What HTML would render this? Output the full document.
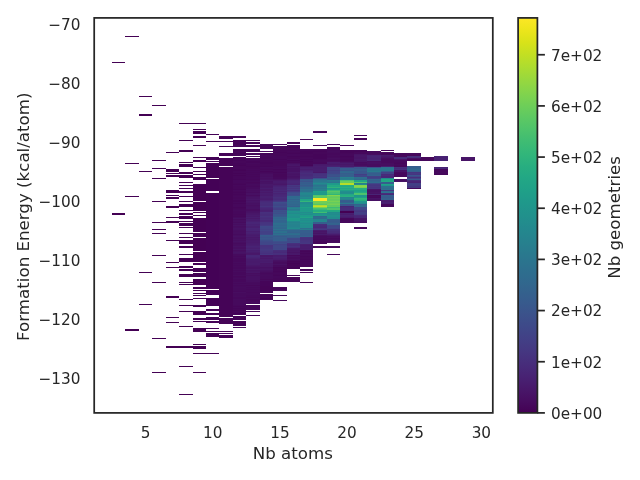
<!DOCTYPE html>
<html lang="en"><head><meta charset="utf-8"><title>Nb atoms vs Formation Energy</title>
<style>html,body{margin:0;padding:0;background:#fff;overflow:hidden}svg{display:block}</style></head>
<body>
<svg width="640" height="480" viewBox="0 0 640 480">
<defs><linearGradient id="vg" x1="0" y1="1" x2="0" y2="0">
<stop offset="0.0000" stop-color="#440154"/>
<stop offset="0.0312" stop-color="#470d60"/>
<stop offset="0.0625" stop-color="#48186a"/>
<stop offset="0.0938" stop-color="#482374"/>
<stop offset="0.1250" stop-color="#472d7b"/>
<stop offset="0.1562" stop-color="#453781"/>
<stop offset="0.1875" stop-color="#424086"/>
<stop offset="0.2188" stop-color="#3e4989"/>
<stop offset="0.2500" stop-color="#3b528b"/>
<stop offset="0.2812" stop-color="#375b8d"/>
<stop offset="0.3125" stop-color="#33638d"/>
<stop offset="0.3438" stop-color="#2f6b8e"/>
<stop offset="0.3750" stop-color="#2c728e"/>
<stop offset="0.4062" stop-color="#297a8e"/>
<stop offset="0.4375" stop-color="#26828e"/>
<stop offset="0.4688" stop-color="#23898e"/>
<stop offset="0.5000" stop-color="#21918c"/>
<stop offset="0.5312" stop-color="#1f988b"/>
<stop offset="0.5625" stop-color="#1fa088"/>
<stop offset="0.5938" stop-color="#22a785"/>
<stop offset="0.6250" stop-color="#28ae80"/>
<stop offset="0.6562" stop-color="#32b67a"/>
<stop offset="0.6875" stop-color="#3fbc73"/>
<stop offset="0.7188" stop-color="#4ec36b"/>
<stop offset="0.7500" stop-color="#5ec962"/>
<stop offset="0.7812" stop-color="#70cf57"/>
<stop offset="0.8125" stop-color="#84d44b"/>
<stop offset="0.8438" stop-color="#98d83e"/>
<stop offset="0.8750" stop-color="#addc30"/>
<stop offset="0.9062" stop-color="#c2df23"/>
<stop offset="0.9375" stop-color="#d8e219"/>
<stop offset="0.9688" stop-color="#ece51b"/>
<stop offset="1.0000" stop-color="#fde725"/>
</linearGradient></defs>
<rect width="640" height="480" fill="#ffffff"/>
<g id="heat" shape-rendering="crispEdges"><rect x="112" y="62.00" width="13" height="1.00" fill="#440154"/>
<rect x="112" y="213.00" width="13" height="2.00" fill="#440154"/>
<rect x="125" y="36.00" width="14" height="1.00" fill="#440154"/>
<rect x="125" y="163.00" width="14" height="1.00" fill="#440154"/>
<rect x="125" y="196.00" width="14" height="1.00" fill="#440154"/>
<rect x="125" y="329.00" width="14" height="2.00" fill="#440154"/>
<rect x="139" y="96.00" width="13" height="1.00" fill="#440154"/>
<rect x="139" y="114.00" width="13" height="2.00" fill="#440154"/>
<rect x="139" y="171.00" width="13" height="1.00" fill="#440154"/>
<rect x="139" y="272.00" width="13" height="1.00" fill="#440154"/>
<rect x="139" y="304.00" width="13" height="1.00" fill="#440154"/>
<rect x="152" y="105.00" width="14" height="1.00" fill="#440154"/>
<rect x="152" y="160.00" width="14" height="1.00" fill="#440154"/>
<rect x="152" y="168.00" width="14" height="1.00" fill="#440154"/>
<rect x="152" y="178.00" width="14" height="1.00" fill="#440154"/>
<rect x="152" y="201.00" width="14" height="1.00" fill="#440154"/>
<rect x="152" y="222.00" width="14" height="1.00" fill="#440154"/>
<rect x="152" y="229.00" width="14" height="1.00" fill="#440154"/>
<rect x="152" y="233.00" width="14" height="1.00" fill="#440154"/>
<rect x="152" y="255.00" width="14" height="1.00" fill="#440154"/>
<rect x="152" y="282.00" width="14" height="1.00" fill="#440154"/>
<rect x="152" y="338.00" width="14" height="1.00" fill="#440154"/>
<rect x="152" y="372.00" width="14" height="1.00" fill="#440154"/>
<rect x="166" y="152.00" width="13" height="1.00" fill="#440154"/>
<rect x="166" y="169.00" width="13" height="3.00" fill="#440154"/>
<rect x="166" y="173.00" width="13" height="1.00" fill="#440154"/>
<rect x="166" y="175.00" width="13" height="2.00" fill="#440154"/>
<rect x="166" y="190.00" width="13" height="3.00" fill="#440154"/>
<rect x="166" y="195.00" width="13" height="1.00" fill="#440154"/>
<rect x="166" y="197.00" width="13" height="2.00" fill="#440154"/>
<rect x="166" y="206.00" width="13" height="2.00" fill="#440154"/>
<rect x="166" y="217.00" width="13" height="1.00" fill="#440154"/>
<rect x="166" y="221.00" width="13" height="2.00" fill="#440154"/>
<rect x="166" y="240.00" width="13" height="1.00" fill="#440154"/>
<rect x="166" y="262.00" width="13" height="1.00" fill="#440154"/>
<rect x="166" y="267.00" width="13" height="1.00" fill="#440154"/>
<rect x="166" y="296.00" width="13" height="2.00" fill="#440154"/>
<rect x="166" y="317.00" width="13" height="1.00" fill="#440154"/>
<rect x="166" y="322.00" width="13" height="1.00" fill="#440154"/>
<rect x="166" y="346.00" width="13" height="2.00" fill="#440154"/>
<rect x="179" y="123.00" width="14" height="1.00" fill="#440154"/>
<rect x="179" y="140.00" width="14" height="1.00" fill="#440154"/>
<rect x="179" y="150.00" width="14" height="2.00" fill="#440154"/>
<rect x="179" y="162.00" width="14" height="1.00" fill="#440154"/>
<rect x="179" y="164.00" width="14" height="3.00" fill="#440154"/>
<rect x="179" y="172.00" width="14" height="2.00" fill="#440154"/>
<rect x="179" y="175.00" width="14" height="3.00" fill="#440154"/>
<rect x="179" y="182.00" width="14" height="1.00" fill="#440154"/>
<rect x="179" y="185.00" width="14" height="1.00" fill="#440154"/>
<rect x="179" y="188.00" width="14" height="1.00" fill="#440154"/>
<rect x="179" y="191.00" width="14" height="2.00" fill="#440154"/>
<rect x="179" y="196.00" width="14" height="1.00" fill="#440154"/>
<rect x="179" y="201.00" width="14" height="1.00" fill="#440154"/>
<rect x="179" y="204.00" width="14" height="2.00" fill="#440154"/>
<rect x="179" y="206.00" width="14" height="1.00" fill="#440154"/>
<rect x="179" y="210.00" width="14" height="1.00" fill="#440154"/>
<rect x="179" y="213.00" width="14" height="2.00" fill="#440154"/>
<rect x="179" y="216.00" width="14" height="3.00" fill="#440154"/>
<rect x="179" y="221.00" width="14" height="1.00" fill="#440154"/>
<rect x="179" y="223.00" width="14" height="3.00" fill="#440154"/>
<rect x="179" y="227.00" width="14" height="1.00" fill="#440154"/>
<rect x="179" y="233.00" width="14" height="1.00" fill="#440154"/>
<rect x="179" y="237.00" width="14" height="1.00" fill="#440154"/>
<rect x="179" y="240.00" width="14" height="4.00" fill="#440154"/>
<rect x="179" y="246.00" width="14" height="2.00" fill="#440154"/>
<rect x="179" y="254.00" width="14" height="1.00" fill="#440154"/>
<rect x="179" y="258.00" width="14" height="4.00" fill="#440154"/>
<rect x="179" y="266.00" width="14" height="2.00" fill="#440154"/>
<rect x="179" y="269.00" width="14" height="2.00" fill="#440154"/>
<rect x="179" y="274.00" width="14" height="3.00" fill="#440154"/>
<rect x="179" y="282.00" width="14" height="1.00" fill="#440154"/>
<rect x="179" y="284.00" width="14" height="1.00" fill="#440154"/>
<rect x="179" y="299.00" width="14" height="1.00" fill="#440154"/>
<rect x="179" y="305.00" width="14" height="1.00" fill="#440154"/>
<rect x="179" y="311.00" width="14" height="1.00" fill="#440154"/>
<rect x="179" y="326.00" width="14" height="1.00" fill="#440154"/>
<rect x="179" y="346.00" width="14" height="2.00" fill="#440154"/>
<rect x="179" y="366.00" width="14" height="1.00" fill="#440154"/>
<rect x="179" y="394.00" width="14" height="1.00" fill="#440154"/>
<rect x="193" y="123.00" width="13" height="1.00" fill="#440154"/>
<rect x="193" y="129.00" width="13" height="1.00" fill="#440154"/>
<rect x="193" y="131.00" width="13" height="3.00" fill="#440154"/>
<rect x="193" y="136.00" width="13" height="2.00" fill="#440154"/>
<rect x="193" y="145.00" width="13" height="1.00" fill="#440154"/>
<rect x="193" y="157.00" width="13" height="1.00" fill="#440154"/>
<rect x="193" y="160.00" width="13" height="2.00" fill="#440154"/>
<rect x="193" y="167.00" width="13" height="1.00" fill="#440154"/>
<rect x="193" y="171.00" width="13" height="1.00" fill="#440154"/>
<rect x="193" y="174.00" width="13" height="1.00" fill="#440154"/>
<rect x="193" y="177.00" width="13" height="3.00" fill="#440154"/>
<rect x="193" y="184.00" width="13" height="17.00" fill="#440154"/>
<rect x="193" y="202.00" width="13" height="9.00" fill="#440154"/>
<rect x="193" y="212.00" width="13" height="1.00" fill="#440154"/>
<rect x="193" y="215.00" width="13" height="1.00" fill="#440154"/>
<rect x="193" y="218.00" width="13" height="14.00" fill="#440154"/>
<rect x="193" y="233.00" width="13" height="4.00" fill="#440154"/>
<rect x="193" y="238.00" width="13" height="13.00" fill="#440154"/>
<rect x="193" y="252.00" width="13" height="10.00" fill="#440154"/>
<rect x="193" y="263.00" width="13" height="2.00" fill="#440154"/>
<rect x="193" y="268.00" width="13" height="4.00" fill="#440154"/>
<rect x="193" y="273.00" width="13" height="4.00" fill="#440154"/>
<rect x="193" y="279.00" width="13" height="6.00" fill="#440154"/>
<rect x="193" y="287.00" width="13" height="2.00" fill="#440154"/>
<rect x="193" y="290.00" width="13" height="1.00" fill="#440154"/>
<rect x="193" y="293.00" width="13" height="1.00" fill="#440154"/>
<rect x="193" y="295.00" width="13" height="1.00" fill="#440154"/>
<rect x="193" y="298.00" width="13" height="1.00" fill="#440154"/>
<rect x="193" y="305.00" width="13" height="2.00" fill="#440154"/>
<rect x="193" y="311.00" width="13" height="4.00" fill="#440154"/>
<rect x="193" y="318.00" width="13" height="2.00" fill="#440154"/>
<rect x="193" y="321.00" width="13" height="1.00" fill="#440154"/>
<rect x="193" y="328.00" width="13" height="4.00" fill="#440154"/>
<rect x="193" y="344.00" width="13" height="1.00" fill="#440154"/>
<rect x="193" y="346.00" width="13" height="3.00" fill="#440154"/>
<rect x="193" y="353.00" width="13" height="1.00" fill="#440154"/>
<rect x="193" y="372.00" width="13" height="1.00" fill="#440154"/>
<rect x="206" y="134.00" width="13" height="1.00" fill="#440256"/>
<rect x="206" y="141.00" width="13" height="1.00" fill="#440256"/>
<rect x="206" y="157.00" width="13" height="3.00" fill="#440256"/>
<rect x="206" y="161.00" width="13" height="1.00" fill="#440256"/>
<rect x="206" y="163.00" width="13" height="15.00" fill="#440256"/>
<rect x="206" y="179.00" width="13" height="12.00" fill="#440256"/>
<rect x="206" y="193.00" width="13" height="96.00" fill="#440256"/>
<rect x="206" y="290.00" width="13" height="5.00" fill="#440256"/>
<rect x="206" y="298.00" width="13" height="8.00" fill="#440256"/>
<rect x="206" y="309.00" width="13" height="2.00" fill="#440256"/>
<rect x="206" y="313.00" width="13" height="2.00" fill="#440256"/>
<rect x="206" y="317.00" width="13" height="3.00" fill="#440256"/>
<rect x="206" y="321.00" width="13" height="2.00" fill="#440256"/>
<rect x="206" y="328.00" width="13" height="1.00" fill="#440256"/>
<rect x="206" y="331.00" width="13" height="1.00" fill="#440256"/>
<rect x="206" y="333.00" width="13" height="4.00" fill="#440256"/>
<rect x="206" y="353.00" width="13" height="1.00" fill="#440256"/>
<rect x="219" y="136.00" width="14" height="3.00" fill="#450457"/>
<rect x="219" y="141.00" width="14" height="1.00" fill="#450457"/>
<rect x="219" y="146.00" width="14" height="1.00" fill="#450457"/>
<rect x="219" y="153.00" width="14" height="3.00" fill="#450457"/>
<rect x="219" y="158.00" width="14" height="8.00" fill="#450457"/>
<rect x="219" y="167.00" width="14" height="150.00" fill="#450457"/>
<rect x="219" y="318.00" width="14" height="6.00" fill="#450457"/>
<rect x="219" y="331.00" width="14" height="1.00" fill="#450457"/>
<rect x="219" y="333.00" width="14" height="1.00" fill="#450457"/>
<rect x="219" y="335.00" width="14" height="3.00" fill="#450457"/>
<rect x="233" y="136.00" width="13" height="2.00" fill="#450559"/>
<rect x="233" y="140.00" width="13" height="1.00" fill="#450457"/>
<rect x="233" y="141.00" width="13" height="2.00" fill="#450559"/>
<rect x="233" y="143.00" width="13" height="1.00" fill="#450457"/>
<rect x="233" y="144.00" width="13" height="1.00" fill="#450559"/>
<rect x="233" y="145.00" width="13" height="1.00" fill="#46075a"/>
<rect x="233" y="146.00" width="13" height="1.00" fill="#450559"/>
<rect x="233" y="149.00" width="13" height="1.00" fill="#450559"/>
<rect x="233" y="150.00" width="13" height="1.00" fill="#450457"/>
<rect x="233" y="151.00" width="13" height="2.00" fill="#46075a"/>
<rect x="233" y="153.00" width="13" height="1.00" fill="#450457"/>
<rect x="233" y="154.00" width="13" height="2.00" fill="#450559"/>
<rect x="233" y="157.00" width="13" height="1.00" fill="#450559"/>
<rect x="233" y="158.00" width="13" height="1.00" fill="#450457"/>
<rect x="233" y="159.00" width="13" height="1.00" fill="#46075a"/>
<rect x="233" y="160.00" width="13" height="1.00" fill="#450559"/>
<rect x="233" y="161.00" width="13" height="2.00" fill="#46075a"/>
<rect x="233" y="163.00" width="13" height="2.00" fill="#450559"/>
<rect x="233" y="165.00" width="13" height="1.00" fill="#450457"/>
<rect x="233" y="166.00" width="13" height="3.00" fill="#46075a"/>
<rect x="233" y="169.00" width="13" height="1.00" fill="#450559"/>
<rect x="233" y="170.00" width="13" height="1.00" fill="#450457"/>
<rect x="233" y="171.00" width="13" height="2.00" fill="#46075a"/>
<rect x="233" y="173.00" width="13" height="1.00" fill="#450457"/>
<rect x="233" y="174.00" width="13" height="1.00" fill="#46075a"/>
<rect x="233" y="175.00" width="13" height="1.00" fill="#450457"/>
<rect x="233" y="176.00" width="13" height="3.00" fill="#46075a"/>
<rect x="233" y="179.00" width="13" height="1.00" fill="#450559"/>
<rect x="233" y="180.00" width="13" height="3.00" fill="#46085c"/>
<rect x="233" y="183.00" width="13" height="1.00" fill="#46075a"/>
<rect x="233" y="184.00" width="13" height="1.00" fill="#450559"/>
<rect x="233" y="185.00" width="13" height="1.00" fill="#46085c"/>
<rect x="233" y="186.00" width="13" height="3.00" fill="#46075a"/>
<rect x="233" y="189.00" width="13" height="1.00" fill="#450559"/>
<rect x="233" y="190.00" width="13" height="1.00" fill="#46085c"/>
<rect x="233" y="191.00" width="13" height="1.00" fill="#46075a"/>
<rect x="233" y="192.00" width="13" height="1.00" fill="#450559"/>
<rect x="233" y="193.00" width="13" height="1.00" fill="#46075a"/>
<rect x="233" y="194.00" width="13" height="1.00" fill="#450559"/>
<rect x="233" y="195.00" width="13" height="1.00" fill="#46075a"/>
<rect x="233" y="196.00" width="13" height="1.00" fill="#46085c"/>
<rect x="233" y="197.00" width="13" height="2.00" fill="#46075a"/>
<rect x="233" y="199.00" width="13" height="1.00" fill="#46085c"/>
<rect x="233" y="200.00" width="13" height="2.00" fill="#450559"/>
<rect x="233" y="202.00" width="13" height="1.00" fill="#46085c"/>
<rect x="233" y="203.00" width="13" height="1.00" fill="#450559"/>
<rect x="233" y="204.00" width="13" height="3.00" fill="#46085c"/>
<rect x="233" y="207.00" width="13" height="1.00" fill="#450559"/>
<rect x="233" y="208.00" width="13" height="1.00" fill="#46075a"/>
<rect x="233" y="209.00" width="13" height="1.00" fill="#46085c"/>
<rect x="233" y="210.00" width="13" height="1.00" fill="#460a5d"/>
<rect x="233" y="211.00" width="13" height="3.00" fill="#46085c"/>
<rect x="233" y="214.00" width="13" height="1.00" fill="#46075a"/>
<rect x="233" y="215.00" width="13" height="1.00" fill="#46085c"/>
<rect x="233" y="216.00" width="13" height="1.00" fill="#46075a"/>
<rect x="233" y="217.00" width="13" height="1.00" fill="#460b5e"/>
<rect x="233" y="218.00" width="13" height="1.00" fill="#471063"/>
<rect x="233" y="219.00" width="13" height="1.00" fill="#460b5e"/>
<rect x="233" y="220.00" width="13" height="2.00" fill="#470e61"/>
<rect x="233" y="222.00" width="13" height="1.00" fill="#460b5e"/>
<rect x="233" y="223.00" width="13" height="1.00" fill="#471063"/>
<rect x="233" y="224.00" width="13" height="1.00" fill="#470d60"/>
<rect x="233" y="225.00" width="13" height="1.00" fill="#471164"/>
<rect x="233" y="226.00" width="13" height="1.00" fill="#470d60"/>
<rect x="233" y="227.00" width="13" height="1.00" fill="#470e61"/>
<rect x="233" y="228.00" width="13" height="1.00" fill="#471164"/>
<rect x="233" y="229.00" width="13" height="1.00" fill="#471063"/>
<rect x="233" y="230.00" width="13" height="1.00" fill="#470e61"/>
<rect x="233" y="231.00" width="13" height="1.00" fill="#470d60"/>
<rect x="233" y="232.00" width="13" height="2.00" fill="#470e61"/>
<rect x="233" y="234.00" width="13" height="1.00" fill="#460b5e"/>
<rect x="233" y="235.00" width="13" height="1.00" fill="#470e61"/>
<rect x="233" y="236.00" width="13" height="1.00" fill="#471164"/>
<rect x="233" y="237.00" width="13" height="1.00" fill="#470e61"/>
<rect x="233" y="238.00" width="13" height="1.00" fill="#470d60"/>
<rect x="233" y="239.00" width="13" height="1.00" fill="#471063"/>
<rect x="233" y="240.00" width="13" height="1.00" fill="#470e61"/>
<rect x="233" y="241.00" width="13" height="1.00" fill="#471164"/>
<rect x="233" y="242.00" width="13" height="1.00" fill="#470e61"/>
<rect x="233" y="243.00" width="13" height="1.00" fill="#460b5e"/>
<rect x="233" y="244.00" width="13" height="2.00" fill="#470d60"/>
<rect x="233" y="246.00" width="13" height="1.00" fill="#471164"/>
<rect x="233" y="247.00" width="13" height="2.00" fill="#470e61"/>
<rect x="233" y="249.00" width="13" height="1.00" fill="#471365"/>
<rect x="233" y="250.00" width="13" height="1.00" fill="#470d60"/>
<rect x="233" y="251.00" width="13" height="1.00" fill="#471063"/>
<rect x="233" y="252.00" width="13" height="1.00" fill="#471365"/>
<rect x="233" y="253.00" width="13" height="1.00" fill="#471164"/>
<rect x="233" y="254.00" width="13" height="2.00" fill="#460b5e"/>
<rect x="233" y="256.00" width="13" height="1.00" fill="#46085c"/>
<rect x="233" y="257.00" width="13" height="1.00" fill="#460b5e"/>
<rect x="233" y="258.00" width="13" height="4.00" fill="#46085c"/>
<rect x="233" y="262.00" width="13" height="1.00" fill="#460b5e"/>
<rect x="233" y="263.00" width="13" height="1.00" fill="#46085c"/>
<rect x="233" y="264.00" width="13" height="1.00" fill="#460a5d"/>
<rect x="233" y="265.00" width="13" height="1.00" fill="#46085c"/>
<rect x="233" y="266.00" width="13" height="1.00" fill="#460a5d"/>
<rect x="233" y="267.00" width="13" height="2.00" fill="#46085c"/>
<rect x="233" y="269.00" width="13" height="1.00" fill="#460b5e"/>
<rect x="233" y="270.00" width="13" height="1.00" fill="#46085c"/>
<rect x="233" y="271.00" width="13" height="1.00" fill="#460b5e"/>
<rect x="233" y="272.00" width="13" height="3.00" fill="#46085c"/>
<rect x="233" y="275.00" width="13" height="1.00" fill="#460b5e"/>
<rect x="233" y="276.00" width="13" height="1.00" fill="#46075a"/>
<rect x="233" y="277.00" width="13" height="1.00" fill="#46085c"/>
<rect x="233" y="278.00" width="13" height="1.00" fill="#460b5e"/>
<rect x="233" y="279.00" width="13" height="3.00" fill="#46085c"/>
<rect x="233" y="282.00" width="13" height="1.00" fill="#460b5e"/>
<rect x="233" y="283.00" width="13" height="1.00" fill="#46085c"/>
<rect x="233" y="284.00" width="13" height="1.00" fill="#460b5e"/>
<rect x="233" y="285.00" width="13" height="1.00" fill="#46085c"/>
<rect x="233" y="286.00" width="13" height="1.00" fill="#460a5d"/>
<rect x="233" y="287.00" width="13" height="1.00" fill="#460b5e"/>
<rect x="233" y="288.00" width="13" height="3.00" fill="#460a5d"/>
<rect x="233" y="291.00" width="13" height="1.00" fill="#46085c"/>
<rect x="233" y="292.00" width="13" height="1.00" fill="#470d60"/>
<rect x="233" y="293.00" width="13" height="3.00" fill="#460a5d"/>
<rect x="233" y="296.00" width="13" height="1.00" fill="#460b5e"/>
<rect x="233" y="297.00" width="13" height="2.00" fill="#46085c"/>
<rect x="233" y="299.00" width="13" height="1.00" fill="#460b5e"/>
<rect x="233" y="300.00" width="13" height="5.00" fill="#460a5d"/>
<rect x="233" y="305.00" width="13" height="1.00" fill="#46085c"/>
<rect x="233" y="306.00" width="13" height="1.00" fill="#450559"/>
<rect x="233" y="307.00" width="13" height="1.00" fill="#46085c"/>
<rect x="233" y="308.00" width="13" height="1.00" fill="#450559"/>
<rect x="233" y="309.00" width="13" height="1.00" fill="#46075a"/>
<rect x="233" y="310.00" width="13" height="1.00" fill="#450457"/>
<rect x="233" y="311.00" width="13" height="1.00" fill="#46075a"/>
<rect x="233" y="312.00" width="13" height="1.00" fill="#450559"/>
<rect x="233" y="313.00" width="13" height="1.00" fill="#440256"/>
<rect x="233" y="314.00" width="13" height="1.00" fill="#450559"/>
<rect x="233" y="316.00" width="13" height="1.00" fill="#440256"/>
<rect x="233" y="317.00" width="13" height="1.00" fill="#450559"/>
<rect x="233" y="318.00" width="13" height="2.00" fill="#450457"/>
<rect x="233" y="321.00" width="13" height="2.00" fill="#440256"/>
<rect x="233" y="323.00" width="13" height="1.00" fill="#450559"/>
<rect x="233" y="324.00" width="13" height="1.00" fill="#440256"/>
<rect x="233" y="325.00" width="13" height="1.00" fill="#450559"/>
<rect x="233" y="327.00" width="13" height="1.00" fill="#450559"/>
<rect x="246" y="140.00" width="14" height="1.00" fill="#450559"/>
<rect x="246" y="142.00" width="14" height="1.00" fill="#46075a"/>
<rect x="246" y="143.00" width="14" height="1.00" fill="#450559"/>
<rect x="246" y="145.00" width="14" height="1.00" fill="#46075a"/>
<rect x="246" y="146.00" width="14" height="1.00" fill="#450559"/>
<rect x="246" y="149.00" width="14" height="2.00" fill="#46075a"/>
<rect x="246" y="151.00" width="14" height="1.00" fill="#450559"/>
<rect x="246" y="153.00" width="14" height="2.00" fill="#46075a"/>
<rect x="246" y="156.00" width="14" height="1.00" fill="#46075a"/>
<rect x="246" y="158.00" width="14" height="2.00" fill="#450559"/>
<rect x="246" y="160.00" width="14" height="1.00" fill="#46085c"/>
<rect x="246" y="161.00" width="14" height="2.00" fill="#450559"/>
<rect x="246" y="163.00" width="14" height="1.00" fill="#46085c"/>
<rect x="246" y="164.00" width="14" height="2.00" fill="#46075a"/>
<rect x="246" y="166.00" width="14" height="1.00" fill="#450559"/>
<rect x="246" y="167.00" width="14" height="2.00" fill="#46075a"/>
<rect x="246" y="169.00" width="14" height="1.00" fill="#46085c"/>
<rect x="246" y="170.00" width="14" height="1.00" fill="#46075a"/>
<rect x="246" y="171.00" width="14" height="1.00" fill="#46085c"/>
<rect x="246" y="172.00" width="14" height="1.00" fill="#46075a"/>
<rect x="246" y="173.00" width="14" height="1.00" fill="#46085c"/>
<rect x="246" y="174.00" width="14" height="1.00" fill="#46075a"/>
<rect x="246" y="175.00" width="14" height="1.00" fill="#46085c"/>
<rect x="246" y="176.00" width="14" height="1.00" fill="#46075a"/>
<rect x="246" y="177.00" width="14" height="2.00" fill="#46085c"/>
<rect x="246" y="179.00" width="14" height="1.00" fill="#46075a"/>
<rect x="246" y="180.00" width="14" height="1.00" fill="#46085c"/>
<rect x="246" y="181.00" width="14" height="1.00" fill="#460a5d"/>
<rect x="246" y="182.00" width="14" height="1.00" fill="#46075a"/>
<rect x="246" y="183.00" width="14" height="1.00" fill="#46085c"/>
<rect x="246" y="184.00" width="14" height="1.00" fill="#460b5e"/>
<rect x="246" y="185.00" width="14" height="1.00" fill="#460a5d"/>
<rect x="246" y="186.00" width="14" height="1.00" fill="#46085c"/>
<rect x="246" y="187.00" width="14" height="2.00" fill="#460b5e"/>
<rect x="246" y="189.00" width="14" height="1.00" fill="#470e61"/>
<rect x="246" y="190.00" width="14" height="1.00" fill="#470d60"/>
<rect x="246" y="191.00" width="14" height="1.00" fill="#470e61"/>
<rect x="246" y="192.00" width="14" height="1.00" fill="#460b5e"/>
<rect x="246" y="193.00" width="14" height="2.00" fill="#471063"/>
<rect x="246" y="195.00" width="14" height="1.00" fill="#460b5e"/>
<rect x="246" y="196.00" width="14" height="1.00" fill="#471063"/>
<rect x="246" y="197.00" width="14" height="2.00" fill="#471365"/>
<rect x="246" y="199.00" width="14" height="1.00" fill="#481668"/>
<rect x="246" y="200.00" width="14" height="1.00" fill="#471164"/>
<rect x="246" y="201.00" width="14" height="1.00" fill="#481467"/>
<rect x="246" y="202.00" width="14" height="1.00" fill="#471365"/>
<rect x="246" y="203.00" width="14" height="1.00" fill="#471063"/>
<rect x="246" y="204.00" width="14" height="1.00" fill="#471164"/>
<rect x="246" y="205.00" width="14" height="1.00" fill="#470e61"/>
<rect x="246" y="206.00" width="14" height="1.00" fill="#471063"/>
<rect x="246" y="207.00" width="14" height="2.00" fill="#471164"/>
<rect x="246" y="209.00" width="14" height="2.00" fill="#470d60"/>
<rect x="246" y="211.00" width="14" height="1.00" fill="#471164"/>
<rect x="246" y="212.00" width="14" height="1.00" fill="#471365"/>
<rect x="246" y="213.00" width="14" height="1.00" fill="#481668"/>
<rect x="246" y="214.00" width="14" height="1.00" fill="#481769"/>
<rect x="246" y="215.00" width="14" height="1.00" fill="#481a6c"/>
<rect x="246" y="216.00" width="14" height="1.00" fill="#48186a"/>
<rect x="246" y="217.00" width="14" height="1.00" fill="#481d6f"/>
<rect x="246" y="218.00" width="14" height="1.00" fill="#48186a"/>
<rect x="246" y="219.00" width="14" height="1.00" fill="#481d6f"/>
<rect x="246" y="220.00" width="14" height="1.00" fill="#481c6e"/>
<rect x="246" y="221.00" width="14" height="1.00" fill="#482071"/>
<rect x="246" y="222.00" width="14" height="2.00" fill="#482576"/>
<rect x="246" y="224.00" width="14" height="1.00" fill="#482173"/>
<rect x="246" y="225.00" width="14" height="1.00" fill="#482374"/>
<rect x="246" y="226.00" width="14" height="2.00" fill="#481f70"/>
<rect x="246" y="228.00" width="14" height="1.00" fill="#482576"/>
<rect x="246" y="229.00" width="14" height="2.00" fill="#482475"/>
<rect x="246" y="231.00" width="14" height="1.00" fill="#481d6f"/>
<rect x="246" y="232.00" width="14" height="1.00" fill="#482173"/>
<rect x="246" y="233.00" width="14" height="1.00" fill="#482071"/>
<rect x="246" y="234.00" width="14" height="1.00" fill="#481c6e"/>
<rect x="246" y="235.00" width="14" height="1.00" fill="#481a6c"/>
<rect x="246" y="236.00" width="14" height="1.00" fill="#481c6e"/>
<rect x="246" y="237.00" width="14" height="1.00" fill="#481769"/>
<rect x="246" y="238.00" width="14" height="1.00" fill="#481a6c"/>
<rect x="246" y="239.00" width="14" height="1.00" fill="#48186a"/>
<rect x="246" y="240.00" width="14" height="1.00" fill="#481a6c"/>
<rect x="246" y="241.00" width="14" height="1.00" fill="#481b6d"/>
<rect x="246" y="242.00" width="14" height="1.00" fill="#481a6c"/>
<rect x="246" y="243.00" width="14" height="1.00" fill="#481c6e"/>
<rect x="246" y="244.00" width="14" height="1.00" fill="#481d6f"/>
<rect x="246" y="245.00" width="14" height="1.00" fill="#481f70"/>
<rect x="246" y="246.00" width="14" height="1.00" fill="#482374"/>
<rect x="246" y="247.00" width="14" height="1.00" fill="#482173"/>
<rect x="246" y="248.00" width="14" height="1.00" fill="#481f70"/>
<rect x="246" y="249.00" width="14" height="1.00" fill="#482374"/>
<rect x="246" y="250.00" width="14" height="1.00" fill="#481d6f"/>
<rect x="246" y="251.00" width="14" height="1.00" fill="#481f70"/>
<rect x="246" y="252.00" width="14" height="1.00" fill="#481b6d"/>
<rect x="246" y="253.00" width="14" height="1.00" fill="#481769"/>
<rect x="246" y="254.00" width="14" height="1.00" fill="#48186a"/>
<rect x="246" y="255.00" width="14" height="1.00" fill="#482576"/>
<rect x="246" y="256.00" width="14" height="1.00" fill="#482677"/>
<rect x="246" y="257.00" width="14" height="1.00" fill="#482374"/>
<rect x="246" y="258.00" width="14" height="1.00" fill="#481f70"/>
<rect x="246" y="259.00" width="14" height="2.00" fill="#481b6d"/>
<rect x="246" y="261.00" width="14" height="2.00" fill="#481a6c"/>
<rect x="246" y="263.00" width="14" height="2.00" fill="#481b6d"/>
<rect x="246" y="265.00" width="14" height="1.00" fill="#481769"/>
<rect x="246" y="266.00" width="14" height="1.00" fill="#481467"/>
<rect x="246" y="267.00" width="14" height="2.00" fill="#471164"/>
<rect x="246" y="269.00" width="14" height="1.00" fill="#481668"/>
<rect x="246" y="270.00" width="14" height="1.00" fill="#471164"/>
<rect x="246" y="271.00" width="14" height="1.00" fill="#471365"/>
<rect x="246" y="272.00" width="14" height="1.00" fill="#481467"/>
<rect x="246" y="273.00" width="14" height="1.00" fill="#470d60"/>
<rect x="246" y="274.00" width="14" height="1.00" fill="#471063"/>
<rect x="246" y="275.00" width="14" height="1.00" fill="#470d60"/>
<rect x="246" y="276.00" width="14" height="4.00" fill="#471063"/>
<rect x="246" y="280.00" width="14" height="2.00" fill="#470e61"/>
<rect x="246" y="282.00" width="14" height="1.00" fill="#460b5e"/>
<rect x="246" y="283.00" width="14" height="1.00" fill="#460a5d"/>
<rect x="246" y="284.00" width="14" height="1.00" fill="#460b5e"/>
<rect x="246" y="285.00" width="14" height="1.00" fill="#46075a"/>
<rect x="246" y="286.00" width="14" height="1.00" fill="#460b5e"/>
<rect x="246" y="287.00" width="14" height="1.00" fill="#46085c"/>
<rect x="246" y="288.00" width="14" height="1.00" fill="#460a5d"/>
<rect x="246" y="289.00" width="14" height="1.00" fill="#46085c"/>
<rect x="246" y="290.00" width="14" height="2.00" fill="#460a5d"/>
<rect x="246" y="292.00" width="14" height="1.00" fill="#46085c"/>
<rect x="246" y="293.00" width="14" height="2.00" fill="#460a5d"/>
<rect x="246" y="295.00" width="14" height="2.00" fill="#46085c"/>
<rect x="246" y="297.00" width="14" height="1.00" fill="#46075a"/>
<rect x="246" y="298.00" width="14" height="1.00" fill="#460a5d"/>
<rect x="246" y="299.00" width="14" height="2.00" fill="#46075a"/>
<rect x="246" y="301.00" width="14" height="1.00" fill="#46085c"/>
<rect x="246" y="302.00" width="14" height="2.00" fill="#460a5d"/>
<rect x="246" y="305.00" width="14" height="1.00" fill="#46075a"/>
<rect x="246" y="306.00" width="14" height="1.00" fill="#46085c"/>
<rect x="246" y="307.00" width="14" height="1.00" fill="#46075a"/>
<rect x="246" y="308.00" width="14" height="2.00" fill="#46085c"/>
<rect x="246" y="311.00" width="14" height="1.00" fill="#46085c"/>
<rect x="246" y="315.00" width="14" height="1.00" fill="#450559"/>
<rect x="260" y="144.00" width="13" height="2.00" fill="#46085c"/>
<rect x="260" y="146.00" width="13" height="1.00" fill="#46075a"/>
<rect x="260" y="147.00" width="13" height="1.00" fill="#450559"/>
<rect x="260" y="148.00" width="13" height="1.00" fill="#46075a"/>
<rect x="260" y="151.00" width="13" height="1.00" fill="#46085c"/>
<rect x="260" y="153.00" width="13" height="2.00" fill="#450559"/>
<rect x="260" y="155.00" width="13" height="2.00" fill="#46085c"/>
<rect x="260" y="157.00" width="13" height="2.00" fill="#46075a"/>
<rect x="260" y="159.00" width="13" height="1.00" fill="#46085c"/>
<rect x="260" y="160.00" width="13" height="2.00" fill="#46075a"/>
<rect x="260" y="162.00" width="13" height="2.00" fill="#450559"/>
<rect x="260" y="164.00" width="13" height="2.00" fill="#46075a"/>
<rect x="260" y="166.00" width="13" height="1.00" fill="#450559"/>
<rect x="260" y="167.00" width="13" height="1.00" fill="#460a5d"/>
<rect x="260" y="168.00" width="13" height="1.00" fill="#46085c"/>
<rect x="260" y="169.00" width="13" height="1.00" fill="#46075a"/>
<rect x="260" y="170.00" width="13" height="1.00" fill="#460a5d"/>
<rect x="260" y="171.00" width="13" height="1.00" fill="#450559"/>
<rect x="260" y="172.00" width="13" height="1.00" fill="#46085c"/>
<rect x="260" y="173.00" width="13" height="1.00" fill="#460b5e"/>
<rect x="260" y="174.00" width="13" height="2.00" fill="#470e61"/>
<rect x="260" y="176.00" width="13" height="1.00" fill="#470d60"/>
<rect x="260" y="177.00" width="13" height="1.00" fill="#471063"/>
<rect x="260" y="178.00" width="13" height="1.00" fill="#470e61"/>
<rect x="260" y="179.00" width="13" height="1.00" fill="#471063"/>
<rect x="260" y="180.00" width="13" height="1.00" fill="#481668"/>
<rect x="260" y="181.00" width="13" height="1.00" fill="#471164"/>
<rect x="260" y="182.00" width="13" height="2.00" fill="#471365"/>
<rect x="260" y="184.00" width="13" height="2.00" fill="#48186a"/>
<rect x="260" y="186.00" width="13" height="1.00" fill="#481668"/>
<rect x="260" y="187.00" width="13" height="1.00" fill="#481769"/>
<rect x="260" y="188.00" width="13" height="1.00" fill="#481c6e"/>
<rect x="260" y="189.00" width="13" height="2.00" fill="#481769"/>
<rect x="260" y="191.00" width="13" height="1.00" fill="#481c6e"/>
<rect x="260" y="192.00" width="13" height="1.00" fill="#48186a"/>
<rect x="260" y="193.00" width="13" height="1.00" fill="#481c6e"/>
<rect x="260" y="194.00" width="13" height="1.00" fill="#481b6d"/>
<rect x="260" y="195.00" width="13" height="1.00" fill="#481a6c"/>
<rect x="260" y="196.00" width="13" height="2.00" fill="#481f70"/>
<rect x="260" y="198.00" width="13" height="1.00" fill="#481c6e"/>
<rect x="260" y="199.00" width="13" height="1.00" fill="#481b6d"/>
<rect x="260" y="200.00" width="13" height="1.00" fill="#482173"/>
<rect x="260" y="201.00" width="13" height="1.00" fill="#482979"/>
<rect x="260" y="202.00" width="13" height="1.00" fill="#472c7a"/>
<rect x="260" y="203.00" width="13" height="1.00" fill="#472d7b"/>
<rect x="260" y="204.00" width="13" height="2.00" fill="#472c7a"/>
<rect x="260" y="206.00" width="13" height="1.00" fill="#46327e"/>
<rect x="260" y="207.00" width="13" height="1.00" fill="#472a7a"/>
<rect x="260" y="208.00" width="13" height="1.00" fill="#482677"/>
<rect x="260" y="209.00" width="13" height="1.00" fill="#482475"/>
<rect x="260" y="210.00" width="13" height="1.00" fill="#482071"/>
<rect x="260" y="211.00" width="13" height="1.00" fill="#482173"/>
<rect x="260" y="212.00" width="13" height="1.00" fill="#472f7d"/>
<rect x="260" y="213.00" width="13" height="1.00" fill="#472e7c"/>
<rect x="260" y="214.00" width="13" height="2.00" fill="#472c7a"/>
<rect x="260" y="216.00" width="13" height="1.00" fill="#46327e"/>
<rect x="260" y="217.00" width="13" height="1.00" fill="#472e7c"/>
<rect x="260" y="218.00" width="13" height="1.00" fill="#472c7a"/>
<rect x="260" y="219.00" width="13" height="1.00" fill="#472e7c"/>
<rect x="260" y="220.00" width="13" height="1.00" fill="#482878"/>
<rect x="260" y="221.00" width="13" height="1.00" fill="#482979"/>
<rect x="260" y="222.00" width="13" height="1.00" fill="#46337f"/>
<rect x="260" y="223.00" width="13" height="1.00" fill="#463480"/>
<rect x="260" y="224.00" width="13" height="1.00" fill="#453581"/>
<rect x="260" y="225.00" width="13" height="1.00" fill="#443a83"/>
<rect x="260" y="226.00" width="13" height="1.00" fill="#3f4889"/>
<rect x="260" y="227.00" width="13" height="1.00" fill="#3f4788"/>
<rect x="260" y="228.00" width="13" height="1.00" fill="#404688"/>
<rect x="260" y="229.00" width="13" height="1.00" fill="#414287"/>
<rect x="260" y="230.00" width="13" height="1.00" fill="#404688"/>
<rect x="260" y="231.00" width="13" height="3.00" fill="#424086"/>
<rect x="260" y="234.00" width="13" height="1.00" fill="#404588"/>
<rect x="260" y="235.00" width="13" height="1.00" fill="#365c8d"/>
<rect x="260" y="236.00" width="13" height="1.00" fill="#375a8c"/>
<rect x="260" y="237.00" width="13" height="1.00" fill="#3a548c"/>
<rect x="260" y="238.00" width="13" height="1.00" fill="#38598c"/>
<rect x="260" y="239.00" width="13" height="1.00" fill="#39558c"/>
<rect x="260" y="240.00" width="13" height="1.00" fill="#3d4d8a"/>
<rect x="260" y="241.00" width="13" height="1.00" fill="#3e4989"/>
<rect x="260" y="242.00" width="13" height="1.00" fill="#404688"/>
<rect x="260" y="243.00" width="13" height="1.00" fill="#3f4788"/>
<rect x="260" y="244.00" width="13" height="1.00" fill="#404588"/>
<rect x="260" y="245.00" width="13" height="2.00" fill="#46337f"/>
<rect x="260" y="247.00" width="13" height="1.00" fill="#463480"/>
<rect x="260" y="248.00" width="13" height="1.00" fill="#453581"/>
<rect x="260" y="249.00" width="13" height="1.00" fill="#453882"/>
<rect x="260" y="250.00" width="13" height="1.00" fill="#453781"/>
<rect x="260" y="251.00" width="13" height="1.00" fill="#463480"/>
<rect x="260" y="252.00" width="13" height="1.00" fill="#46337f"/>
<rect x="260" y="253.00" width="13" height="1.00" fill="#46307e"/>
<rect x="260" y="254.00" width="13" height="1.00" fill="#453581"/>
<rect x="260" y="255.00" width="13" height="2.00" fill="#481769"/>
<rect x="260" y="257.00" width="13" height="1.00" fill="#481b6d"/>
<rect x="260" y="258.00" width="13" height="1.00" fill="#481769"/>
<rect x="260" y="259.00" width="13" height="1.00" fill="#481c6e"/>
<rect x="260" y="260.00" width="13" height="1.00" fill="#481b6d"/>
<rect x="260" y="261.00" width="13" height="1.00" fill="#481a6c"/>
<rect x="260" y="262.00" width="13" height="1.00" fill="#481c6e"/>
<rect x="260" y="263.00" width="13" height="1.00" fill="#481668"/>
<rect x="260" y="264.00" width="13" height="1.00" fill="#481769"/>
<rect x="260" y="265.00" width="13" height="2.00" fill="#481668"/>
<rect x="260" y="267.00" width="13" height="1.00" fill="#471063"/>
<rect x="260" y="268.00" width="13" height="1.00" fill="#471365"/>
<rect x="260" y="269.00" width="13" height="1.00" fill="#481467"/>
<rect x="260" y="270.00" width="13" height="1.00" fill="#471063"/>
<rect x="260" y="271.00" width="13" height="1.00" fill="#470e61"/>
<rect x="260" y="272.00" width="13" height="1.00" fill="#460b5e"/>
<rect x="260" y="273.00" width="13" height="1.00" fill="#46085c"/>
<rect x="260" y="274.00" width="13" height="1.00" fill="#460a5d"/>
<rect x="260" y="275.00" width="13" height="1.00" fill="#460b5e"/>
<rect x="260" y="276.00" width="13" height="3.00" fill="#460a5d"/>
<rect x="260" y="279.00" width="13" height="1.00" fill="#46075a"/>
<rect x="260" y="280.00" width="13" height="1.00" fill="#460b5e"/>
<rect x="260" y="281.00" width="13" height="5.00" fill="#450559"/>
<rect x="260" y="286.00" width="13" height="4.00" fill="#450457"/>
<rect x="260" y="290.00" width="13" height="1.00" fill="#440256"/>
<rect x="260" y="291.00" width="13" height="1.00" fill="#450559"/>
<rect x="260" y="292.00" width="13" height="1.00" fill="#450457"/>
<rect x="260" y="294.00" width="13" height="2.00" fill="#450457"/>
<rect x="260" y="296.00" width="13" height="2.00" fill="#450559"/>
<rect x="260" y="298.00" width="13" height="1.00" fill="#440256"/>
<rect x="260" y="299.00" width="13" height="1.00" fill="#450559"/>
<rect x="273" y="144.00" width="14" height="1.00" fill="#450559"/>
<rect x="273" y="146.00" width="14" height="1.00" fill="#46075a"/>
<rect x="273" y="147.00" width="14" height="1.00" fill="#46085c"/>
<rect x="273" y="148.00" width="14" height="4.00" fill="#46075a"/>
<rect x="273" y="152.00" width="14" height="1.00" fill="#450559"/>
<rect x="273" y="153.00" width="14" height="3.00" fill="#46075a"/>
<rect x="273" y="156.00" width="14" height="3.00" fill="#46085c"/>
<rect x="273" y="159.00" width="14" height="1.00" fill="#450559"/>
<rect x="273" y="160.00" width="14" height="1.00" fill="#46085c"/>
<rect x="273" y="161.00" width="14" height="5.00" fill="#46075a"/>
<rect x="273" y="166.00" width="14" height="2.00" fill="#46085c"/>
<rect x="273" y="168.00" width="14" height="1.00" fill="#460a5d"/>
<rect x="273" y="169.00" width="14" height="1.00" fill="#450559"/>
<rect x="273" y="170.00" width="14" height="2.00" fill="#46085c"/>
<rect x="273" y="172.00" width="14" height="1.00" fill="#450559"/>
<rect x="273" y="173.00" width="14" height="1.00" fill="#46085c"/>
<rect x="273" y="174.00" width="14" height="3.00" fill="#46075a"/>
<rect x="273" y="177.00" width="14" height="2.00" fill="#46085c"/>
<rect x="273" y="179.00" width="14" height="1.00" fill="#470e61"/>
<rect x="273" y="180.00" width="14" height="1.00" fill="#481668"/>
<rect x="273" y="181.00" width="14" height="2.00" fill="#481a6c"/>
<rect x="273" y="183.00" width="14" height="1.00" fill="#48186a"/>
<rect x="273" y="184.00" width="14" height="1.00" fill="#481668"/>
<rect x="273" y="185.00" width="14" height="1.00" fill="#481d6f"/>
<rect x="273" y="186.00" width="14" height="1.00" fill="#482173"/>
<rect x="273" y="187.00" width="14" height="1.00" fill="#482576"/>
<rect x="273" y="188.00" width="14" height="1.00" fill="#482475"/>
<rect x="273" y="189.00" width="14" height="1.00" fill="#482576"/>
<rect x="273" y="190.00" width="14" height="1.00" fill="#482878"/>
<rect x="273" y="191.00" width="14" height="1.00" fill="#482374"/>
<rect x="273" y="192.00" width="14" height="1.00" fill="#482979"/>
<rect x="273" y="193.00" width="14" height="1.00" fill="#482374"/>
<rect x="273" y="194.00" width="14" height="1.00" fill="#482677"/>
<rect x="273" y="195.00" width="14" height="1.00" fill="#482878"/>
<rect x="273" y="196.00" width="14" height="1.00" fill="#482979"/>
<rect x="273" y="197.00" width="14" height="1.00" fill="#472e7c"/>
<rect x="273" y="198.00" width="14" height="1.00" fill="#472c7a"/>
<rect x="273" y="199.00" width="14" height="1.00" fill="#472a7a"/>
<rect x="273" y="200.00" width="14" height="1.00" fill="#46307e"/>
<rect x="273" y="201.00" width="14" height="1.00" fill="#443983"/>
<rect x="273" y="202.00" width="14" height="1.00" fill="#3d4e8a"/>
<rect x="273" y="203.00" width="14" height="1.00" fill="#3e4a89"/>
<rect x="273" y="204.00" width="14" height="1.00" fill="#3f4788"/>
<rect x="273" y="205.00" width="14" height="1.00" fill="#404588"/>
<rect x="273" y="206.00" width="14" height="1.00" fill="#3d4d8a"/>
<rect x="273" y="207.00" width="14" height="1.00" fill="#404588"/>
<rect x="273" y="208.00" width="14" height="1.00" fill="#424086"/>
<rect x="273" y="209.00" width="14" height="1.00" fill="#433e85"/>
<rect x="273" y="210.00" width="14" height="1.00" fill="#3b518b"/>
<rect x="273" y="211.00" width="14" height="1.00" fill="#3d4e8a"/>
<rect x="273" y="212.00" width="14" height="1.00" fill="#3b528b"/>
<rect x="273" y="213.00" width="14" height="1.00" fill="#3d4e8a"/>
<rect x="273" y="214.00" width="14" height="2.00" fill="#39568c"/>
<rect x="273" y="216.00" width="14" height="1.00" fill="#375a8c"/>
<rect x="273" y="217.00" width="14" height="1.00" fill="#31678e"/>
<rect x="273" y="218.00" width="14" height="1.00" fill="#32648e"/>
<rect x="273" y="219.00" width="14" height="1.00" fill="#306a8e"/>
<rect x="273" y="220.00" width="14" height="2.00" fill="#32648e"/>
<rect x="273" y="222.00" width="14" height="1.00" fill="#31668e"/>
<rect x="273" y="223.00" width="14" height="1.00" fill="#2e6e8e"/>
<rect x="273" y="224.00" width="14" height="1.00" fill="#2e6d8e"/>
<rect x="273" y="225.00" width="14" height="1.00" fill="#31688e"/>
<rect x="273" y="226.00" width="14" height="1.00" fill="#2e6d8e"/>
<rect x="273" y="227.00" width="14" height="1.00" fill="#30698e"/>
<rect x="273" y="228.00" width="14" height="1.00" fill="#31678e"/>
<rect x="273" y="229.00" width="14" height="1.00" fill="#2d718e"/>
<rect x="273" y="230.00" width="14" height="1.00" fill="#31668e"/>
<rect x="273" y="231.00" width="14" height="1.00" fill="#2d708e"/>
<rect x="273" y="232.00" width="14" height="1.00" fill="#2c718e"/>
<rect x="273" y="233.00" width="14" height="1.00" fill="#31678e"/>
<rect x="273" y="234.00" width="14" height="1.00" fill="#2d708e"/>
<rect x="273" y="235.00" width="14" height="1.00" fill="#33628d"/>
<rect x="273" y="236.00" width="14" height="1.00" fill="#375a8c"/>
<rect x="273" y="237.00" width="14" height="1.00" fill="#355f8d"/>
<rect x="273" y="238.00" width="14" height="1.00" fill="#365d8d"/>
<rect x="273" y="239.00" width="14" height="2.00" fill="#355e8d"/>
<rect x="273" y="241.00" width="14" height="1.00" fill="#3c508b"/>
<rect x="273" y="242.00" width="14" height="1.00" fill="#3e4a89"/>
<rect x="273" y="243.00" width="14" height="1.00" fill="#3d4d8a"/>
<rect x="273" y="244.00" width="14" height="1.00" fill="#424186"/>
<rect x="273" y="245.00" width="14" height="1.00" fill="#404588"/>
<rect x="273" y="246.00" width="14" height="2.00" fill="#404688"/>
<rect x="273" y="248.00" width="14" height="1.00" fill="#404588"/>
<rect x="273" y="249.00" width="14" height="1.00" fill="#3f4788"/>
<rect x="273" y="250.00" width="14" height="1.00" fill="#472e7c"/>
<rect x="273" y="251.00" width="14" height="1.00" fill="#472c7a"/>
<rect x="273" y="252.00" width="14" height="1.00" fill="#482979"/>
<rect x="273" y="253.00" width="14" height="1.00" fill="#472f7d"/>
<rect x="273" y="254.00" width="14" height="1.00" fill="#472e7c"/>
<rect x="273" y="255.00" width="14" height="1.00" fill="#481b6d"/>
<rect x="273" y="256.00" width="14" height="1.00" fill="#481c6e"/>
<rect x="273" y="257.00" width="14" height="1.00" fill="#481f70"/>
<rect x="273" y="258.00" width="14" height="1.00" fill="#481c6e"/>
<rect x="273" y="259.00" width="14" height="1.00" fill="#481a6c"/>
<rect x="273" y="260.00" width="14" height="1.00" fill="#471164"/>
<rect x="273" y="261.00" width="14" height="1.00" fill="#470e61"/>
<rect x="273" y="262.00" width="14" height="2.00" fill="#460b5e"/>
<rect x="273" y="264.00" width="14" height="1.00" fill="#471063"/>
<rect x="273" y="265.00" width="14" height="1.00" fill="#460a5d"/>
<rect x="273" y="266.00" width="14" height="1.00" fill="#460b5e"/>
<rect x="273" y="267.00" width="14" height="1.00" fill="#450559"/>
<rect x="273" y="268.00" width="14" height="3.00" fill="#46075a"/>
<rect x="273" y="271.00" width="14" height="1.00" fill="#450559"/>
<rect x="273" y="272.00" width="14" height="1.00" fill="#46075a"/>
<rect x="273" y="273.00" width="14" height="1.00" fill="#46085c"/>
<rect x="273" y="274.00" width="14" height="1.00" fill="#46075a"/>
<rect x="273" y="275.00" width="14" height="1.00" fill="#450559"/>
<rect x="273" y="276.00" width="14" height="2.00" fill="#46085c"/>
<rect x="273" y="278.00" width="14" height="2.00" fill="#46075a"/>
<rect x="273" y="280.00" width="14" height="2.00" fill="#450559"/>
<rect x="273" y="287.00" width="14" height="1.00" fill="#46075a"/>
<rect x="273" y="288.00" width="14" height="1.00" fill="#450559"/>
<rect x="273" y="289.00" width="14" height="1.00" fill="#46085c"/>
<rect x="273" y="290.00" width="14" height="1.00" fill="#46075a"/>
<rect x="273" y="295.00" width="14" height="1.00" fill="#450559"/>
<rect x="273" y="300.00" width="14" height="1.00" fill="#46085c"/>
<rect x="287" y="142.00" width="13" height="1.00" fill="#450457"/>
<rect x="287" y="143.00" width="13" height="1.00" fill="#450559"/>
<rect x="287" y="145.00" width="13" height="2.00" fill="#46075a"/>
<rect x="287" y="147.00" width="13" height="1.00" fill="#450457"/>
<rect x="287" y="148.00" width="13" height="1.00" fill="#46085c"/>
<rect x="287" y="149.00" width="13" height="2.00" fill="#46075a"/>
<rect x="287" y="151.00" width="13" height="1.00" fill="#46085c"/>
<rect x="287" y="152.00" width="13" height="1.00" fill="#46075a"/>
<rect x="287" y="153.00" width="13" height="1.00" fill="#450559"/>
<rect x="287" y="154.00" width="13" height="2.00" fill="#46085c"/>
<rect x="287" y="156.00" width="13" height="1.00" fill="#450559"/>
<rect x="287" y="157.00" width="13" height="2.00" fill="#46075a"/>
<rect x="287" y="159.00" width="13" height="1.00" fill="#460a5d"/>
<rect x="287" y="160.00" width="13" height="1.00" fill="#450559"/>
<rect x="287" y="161.00" width="13" height="1.00" fill="#46085c"/>
<rect x="287" y="162.00" width="13" height="1.00" fill="#46075a"/>
<rect x="287" y="163.00" width="13" height="1.00" fill="#470e61"/>
<rect x="287" y="164.00" width="13" height="1.00" fill="#481467"/>
<rect x="287" y="165.00" width="13" height="1.00" fill="#481668"/>
<rect x="287" y="166.00" width="13" height="1.00" fill="#471063"/>
<rect x="287" y="167.00" width="13" height="1.00" fill="#481467"/>
<rect x="287" y="168.00" width="13" height="4.00" fill="#471164"/>
<rect x="287" y="172.00" width="13" height="1.00" fill="#481769"/>
<rect x="287" y="173.00" width="13" height="1.00" fill="#481467"/>
<rect x="287" y="174.00" width="13" height="1.00" fill="#471365"/>
<rect x="287" y="175.00" width="13" height="1.00" fill="#481467"/>
<rect x="287" y="176.00" width="13" height="1.00" fill="#471164"/>
<rect x="287" y="177.00" width="13" height="1.00" fill="#471365"/>
<rect x="287" y="178.00" width="13" height="1.00" fill="#481668"/>
<rect x="287" y="179.00" width="13" height="1.00" fill="#481d6f"/>
<rect x="287" y="180.00" width="13" height="1.00" fill="#482576"/>
<rect x="287" y="181.00" width="13" height="2.00" fill="#482878"/>
<rect x="287" y="183.00" width="13" height="1.00" fill="#482677"/>
<rect x="287" y="184.00" width="13" height="1.00" fill="#482475"/>
<rect x="287" y="185.00" width="13" height="1.00" fill="#453781"/>
<rect x="287" y="186.00" width="13" height="1.00" fill="#46327e"/>
<rect x="287" y="187.00" width="13" height="1.00" fill="#443983"/>
<rect x="287" y="188.00" width="13" height="1.00" fill="#46337f"/>
<rect x="287" y="189.00" width="13" height="1.00" fill="#443b84"/>
<rect x="287" y="190.00" width="13" height="1.00" fill="#46327e"/>
<rect x="287" y="191.00" width="13" height="1.00" fill="#443a83"/>
<rect x="287" y="192.00" width="13" height="1.00" fill="#3e4989"/>
<rect x="287" y="193.00" width="13" height="1.00" fill="#3d4e8a"/>
<rect x="287" y="194.00" width="13" height="1.00" fill="#3e4c8a"/>
<rect x="287" y="195.00" width="13" height="1.00" fill="#3c508b"/>
<rect x="287" y="196.00" width="13" height="2.00" fill="#30698e"/>
<rect x="287" y="198.00" width="13" height="1.00" fill="#2f6c8e"/>
<rect x="287" y="199.00" width="13" height="1.00" fill="#33628d"/>
<rect x="287" y="200.00" width="13" height="1.00" fill="#2f6c8e"/>
<rect x="287" y="201.00" width="13" height="1.00" fill="#31678e"/>
<rect x="287" y="202.00" width="13" height="2.00" fill="#30698e"/>
<rect x="287" y="204.00" width="13" height="1.00" fill="#31668e"/>
<rect x="287" y="205.00" width="13" height="1.00" fill="#31678e"/>
<rect x="287" y="206.00" width="13" height="1.00" fill="#355f8d"/>
<rect x="287" y="207.00" width="13" height="1.00" fill="#287d8e"/>
<rect x="287" y="208.00" width="13" height="1.00" fill="#26828e"/>
<rect x="287" y="209.00" width="13" height="1.00" fill="#2a788e"/>
<rect x="287" y="210.00" width="13" height="1.00" fill="#27808e"/>
<rect x="287" y="211.00" width="13" height="1.00" fill="#20928c"/>
<rect x="287" y="212.00" width="13" height="1.00" fill="#218f8d"/>
<rect x="287" y="213.00" width="13" height="1.00" fill="#238a8d"/>
<rect x="287" y="214.00" width="13" height="1.00" fill="#1f948c"/>
<rect x="287" y="215.00" width="13" height="1.00" fill="#20938c"/>
<rect x="287" y="216.00" width="13" height="2.00" fill="#21908d"/>
<rect x="287" y="218.00" width="13" height="1.00" fill="#1f9a8a"/>
<rect x="287" y="219.00" width="13" height="1.00" fill="#1f998a"/>
<rect x="287" y="220.00" width="13" height="1.00" fill="#1f9a8a"/>
<rect x="287" y="221.00" width="13" height="1.00" fill="#23888e"/>
<rect x="287" y="222.00" width="13" height="1.00" fill="#26818e"/>
<rect x="287" y="223.00" width="13" height="1.00" fill="#25858e"/>
<rect x="287" y="224.00" width="13" height="1.00" fill="#25838e"/>
<rect x="287" y="225.00" width="13" height="2.00" fill="#26828e"/>
<rect x="287" y="227.00" width="13" height="1.00" fill="#24868e"/>
<rect x="287" y="228.00" width="13" height="1.00" fill="#228b8d"/>
<rect x="287" y="229.00" width="13" height="1.00" fill="#2b758e"/>
<rect x="287" y="230.00" width="13" height="2.00" fill="#32648e"/>
<rect x="287" y="232.00" width="13" height="1.00" fill="#34618d"/>
<rect x="287" y="233.00" width="13" height="1.00" fill="#2f6b8e"/>
<rect x="287" y="234.00" width="13" height="1.00" fill="#2e6e8e"/>
<rect x="287" y="235.00" width="13" height="1.00" fill="#34618d"/>
<rect x="287" y="236.00" width="13" height="1.00" fill="#33628d"/>
<rect x="287" y="237.00" width="13" height="1.00" fill="#365c8d"/>
<rect x="287" y="238.00" width="13" height="1.00" fill="#3e4a89"/>
<rect x="287" y="239.00" width="13" height="1.00" fill="#3f4889"/>
<rect x="287" y="240.00" width="13" height="1.00" fill="#3d4d8a"/>
<rect x="287" y="241.00" width="13" height="1.00" fill="#3e4a89"/>
<rect x="287" y="242.00" width="13" height="1.00" fill="#3d4d8a"/>
<rect x="287" y="243.00" width="13" height="1.00" fill="#46307e"/>
<rect x="287" y="244.00" width="13" height="1.00" fill="#472c7a"/>
<rect x="287" y="245.00" width="13" height="1.00" fill="#472a7a"/>
<rect x="287" y="246.00" width="13" height="1.00" fill="#46307e"/>
<rect x="287" y="247.00" width="13" height="1.00" fill="#482979"/>
<rect x="287" y="248.00" width="13" height="1.00" fill="#481a6c"/>
<rect x="287" y="249.00" width="13" height="1.00" fill="#48186a"/>
<rect x="287" y="250.00" width="13" height="1.00" fill="#481668"/>
<rect x="287" y="251.00" width="13" height="1.00" fill="#481769"/>
<rect x="287" y="252.00" width="13" height="1.00" fill="#471365"/>
<rect x="287" y="253.00" width="13" height="1.00" fill="#481769"/>
<rect x="287" y="254.00" width="13" height="1.00" fill="#48186a"/>
<rect x="287" y="255.00" width="13" height="1.00" fill="#46085c"/>
<rect x="287" y="256.00" width="13" height="1.00" fill="#470e61"/>
<rect x="287" y="257.00" width="13" height="2.00" fill="#460b5e"/>
<rect x="287" y="259.00" width="13" height="1.00" fill="#470e61"/>
<rect x="287" y="260.00" width="13" height="1.00" fill="#46085c"/>
<rect x="287" y="261.00" width="13" height="1.00" fill="#450457"/>
<rect x="287" y="262.00" width="13" height="1.00" fill="#450559"/>
<rect x="287" y="263.00" width="13" height="1.00" fill="#440256"/>
<rect x="287" y="264.00" width="13" height="2.00" fill="#450457"/>
<rect x="287" y="266.00" width="13" height="1.00" fill="#450559"/>
<rect x="287" y="267.00" width="13" height="1.00" fill="#440256"/>
<rect x="287" y="268.00" width="13" height="1.00" fill="#450457"/>
<rect x="287" y="275.00" width="13" height="1.00" fill="#450457"/>
<rect x="287" y="277.00" width="13" height="1.00" fill="#440256"/>
<rect x="287" y="278.00" width="13" height="2.00" fill="#450457"/>
<rect x="287" y="280.00" width="13" height="1.00" fill="#450559"/>
<rect x="287" y="281.00" width="13" height="1.00" fill="#450457"/>
<rect x="300" y="139.00" width="13" height="1.00" fill="#46075a"/>
<rect x="300" y="149.00" width="13" height="1.00" fill="#450559"/>
<rect x="300" y="150.00" width="13" height="1.00" fill="#46085c"/>
<rect x="300" y="151.00" width="13" height="3.00" fill="#450559"/>
<rect x="300" y="154.00" width="13" height="2.00" fill="#46075a"/>
<rect x="300" y="156.00" width="13" height="1.00" fill="#450559"/>
<rect x="300" y="157.00" width="13" height="1.00" fill="#46075a"/>
<rect x="300" y="158.00" width="13" height="1.00" fill="#46085c"/>
<rect x="300" y="159.00" width="13" height="1.00" fill="#450559"/>
<rect x="300" y="160.00" width="13" height="1.00" fill="#46085c"/>
<rect x="300" y="161.00" width="13" height="1.00" fill="#450559"/>
<rect x="300" y="162.00" width="13" height="3.00" fill="#46075a"/>
<rect x="300" y="165.00" width="13" height="1.00" fill="#450559"/>
<rect x="300" y="166.00" width="13" height="1.00" fill="#481467"/>
<rect x="300" y="167.00" width="13" height="1.00" fill="#481d6f"/>
<rect x="300" y="168.00" width="13" height="1.00" fill="#481f70"/>
<rect x="300" y="169.00" width="13" height="1.00" fill="#481b6d"/>
<rect x="300" y="170.00" width="13" height="1.00" fill="#482173"/>
<rect x="300" y="171.00" width="13" height="1.00" fill="#482677"/>
<rect x="300" y="172.00" width="13" height="1.00" fill="#482979"/>
<rect x="300" y="173.00" width="13" height="1.00" fill="#472d7b"/>
<rect x="300" y="174.00" width="13" height="1.00" fill="#482979"/>
<rect x="300" y="175.00" width="13" height="1.00" fill="#472a7a"/>
<rect x="300" y="176.00" width="13" height="1.00" fill="#472d7b"/>
<rect x="300" y="177.00" width="13" height="1.00" fill="#472f7d"/>
<rect x="300" y="178.00" width="13" height="1.00" fill="#46307e"/>
<rect x="300" y="179.00" width="13" height="1.00" fill="#3b528b"/>
<rect x="300" y="180.00" width="13" height="1.00" fill="#38588c"/>
<rect x="300" y="181.00" width="13" height="1.00" fill="#3b528b"/>
<rect x="300" y="182.00" width="13" height="1.00" fill="#365d8d"/>
<rect x="300" y="183.00" width="13" height="1.00" fill="#365c8d"/>
<rect x="300" y="184.00" width="13" height="1.00" fill="#34608d"/>
<rect x="300" y="185.00" width="13" height="1.00" fill="#375a8c"/>
<rect x="300" y="186.00" width="13" height="1.00" fill="#355f8d"/>
<rect x="300" y="187.00" width="13" height="1.00" fill="#30698e"/>
<rect x="300" y="188.00" width="13" height="1.00" fill="#31678e"/>
<rect x="300" y="189.00" width="13" height="1.00" fill="#2d718e"/>
<rect x="300" y="190.00" width="13" height="1.00" fill="#2d708e"/>
<rect x="300" y="191.00" width="13" height="1.00" fill="#2c718e"/>
<rect x="300" y="192.00" width="13" height="1.00" fill="#27808e"/>
<rect x="300" y="193.00" width="13" height="1.00" fill="#23888e"/>
<rect x="300" y="194.00" width="13" height="1.00" fill="#24868e"/>
<rect x="300" y="195.00" width="13" height="2.00" fill="#26818e"/>
<rect x="300" y="197.00" width="13" height="1.00" fill="#228b8d"/>
<rect x="300" y="198.00" width="13" height="1.00" fill="#25858e"/>
<rect x="300" y="199.00" width="13" height="1.00" fill="#20a486"/>
<rect x="300" y="200.00" width="13" height="1.00" fill="#21a685"/>
<rect x="300" y="201.00" width="13" height="1.00" fill="#34b679"/>
<rect x="300" y="202.00" width="13" height="1.00" fill="#228b8d"/>
<rect x="300" y="203.00" width="13" height="1.00" fill="#228c8d"/>
<rect x="300" y="204.00" width="13" height="1.00" fill="#20928c"/>
<rect x="300" y="205.00" width="13" height="1.00" fill="#1f958b"/>
<rect x="300" y="206.00" width="13" height="1.00" fill="#20928c"/>
<rect x="300" y="207.00" width="13" height="1.00" fill="#1fa287"/>
<rect x="300" y="208.00" width="13" height="1.00" fill="#1f998a"/>
<rect x="300" y="209.00" width="13" height="3.00" fill="#1f9a8a"/>
<rect x="300" y="212.00" width="13" height="1.00" fill="#228d8d"/>
<rect x="300" y="213.00" width="13" height="1.00" fill="#1f948c"/>
<rect x="300" y="214.00" width="13" height="1.00" fill="#228d8d"/>
<rect x="300" y="215.00" width="13" height="1.00" fill="#1e9b8a"/>
<rect x="300" y="216.00" width="13" height="1.00" fill="#1e9c89"/>
<rect x="300" y="217.00" width="13" height="1.00" fill="#20a386"/>
<rect x="300" y="218.00" width="13" height="1.00" fill="#218e8d"/>
<rect x="300" y="219.00" width="13" height="1.00" fill="#20928c"/>
<rect x="300" y="220.00" width="13" height="1.00" fill="#218e8d"/>
<rect x="300" y="221.00" width="13" height="1.00" fill="#1f948c"/>
<rect x="300" y="222.00" width="13" height="1.00" fill="#218f8d"/>
<rect x="300" y="223.00" width="13" height="1.00" fill="#238a8d"/>
<rect x="300" y="224.00" width="13" height="1.00" fill="#21918c"/>
<rect x="300" y="225.00" width="13" height="1.00" fill="#218e8d"/>
<rect x="300" y="226.00" width="13" height="2.00" fill="#228d8d"/>
<rect x="300" y="228.00" width="13" height="1.00" fill="#2c718e"/>
<rect x="300" y="229.00" width="13" height="1.00" fill="#297b8e"/>
<rect x="300" y="230.00" width="13" height="1.00" fill="#365d8d"/>
<rect x="300" y="231.00" width="13" height="2.00" fill="#355e8d"/>
<rect x="300" y="233.00" width="13" height="1.00" fill="#375b8d"/>
<rect x="300" y="234.00" width="13" height="2.00" fill="#365c8d"/>
<rect x="300" y="236.00" width="13" height="1.00" fill="#34618d"/>
<rect x="300" y="237.00" width="13" height="1.00" fill="#46337f"/>
<rect x="300" y="238.00" width="13" height="2.00" fill="#46307e"/>
<rect x="300" y="240.00" width="13" height="1.00" fill="#46337f"/>
<rect x="300" y="241.00" width="13" height="1.00" fill="#463480"/>
<rect x="300" y="242.00" width="13" height="1.00" fill="#453581"/>
<rect x="300" y="243.00" width="13" height="1.00" fill="#453781"/>
<rect x="300" y="244.00" width="13" height="1.00" fill="#481f70"/>
<rect x="300" y="245.00" width="13" height="1.00" fill="#481b6d"/>
<rect x="300" y="246.00" width="13" height="2.00" fill="#481c6e"/>
<rect x="300" y="248.00" width="13" height="1.00" fill="#481b6d"/>
<rect x="300" y="249.00" width="13" height="1.00" fill="#481d6f"/>
<rect x="300" y="250.00" width="13" height="1.00" fill="#46085c"/>
<rect x="300" y="251.00" width="13" height="1.00" fill="#450559"/>
<rect x="300" y="252.00" width="13" height="1.00" fill="#46085c"/>
<rect x="300" y="253.00" width="13" height="1.00" fill="#450559"/>
<rect x="300" y="254.00" width="13" height="2.00" fill="#46085c"/>
<rect x="300" y="256.00" width="13" height="1.00" fill="#450559"/>
<rect x="300" y="257.00" width="13" height="2.00" fill="#46075a"/>
<rect x="300" y="259.00" width="13" height="1.00" fill="#450559"/>
<rect x="300" y="260.00" width="13" height="1.00" fill="#46085c"/>
<rect x="300" y="261.00" width="13" height="1.00" fill="#46075a"/>
<rect x="300" y="262.00" width="13" height="3.00" fill="#46085c"/>
<rect x="300" y="265.00" width="13" height="1.00" fill="#46075a"/>
<rect x="300" y="266.00" width="13" height="1.00" fill="#46085c"/>
<rect x="300" y="269.00" width="13" height="1.00" fill="#450559"/>
<rect x="300" y="270.00" width="13" height="1.00" fill="#46085c"/>
<rect x="300" y="272.00" width="13" height="1.00" fill="#46075a"/>
<rect x="300" y="282.00" width="13" height="1.00" fill="#450457"/>
<rect x="313" y="131.00" width="14" height="2.00" fill="#450559"/>
<rect x="313" y="145.00" width="14" height="1.00" fill="#46075a"/>
<rect x="313" y="149.00" width="14" height="2.00" fill="#46075a"/>
<rect x="313" y="151.00" width="14" height="1.00" fill="#450559"/>
<rect x="313" y="152.00" width="14" height="2.00" fill="#46075a"/>
<rect x="313" y="154.00" width="14" height="5.00" fill="#450559"/>
<rect x="313" y="159.00" width="14" height="1.00" fill="#46085c"/>
<rect x="313" y="160.00" width="14" height="2.00" fill="#460a5d"/>
<rect x="313" y="162.00" width="14" height="2.00" fill="#46085c"/>
<rect x="313" y="164.00" width="14" height="1.00" fill="#48186a"/>
<rect x="313" y="165.00" width="14" height="1.00" fill="#481a6c"/>
<rect x="313" y="166.00" width="14" height="1.00" fill="#481d6f"/>
<rect x="313" y="167.00" width="14" height="2.00" fill="#481c6e"/>
<rect x="313" y="169.00" width="14" height="3.00" fill="#481d6f"/>
<rect x="313" y="172.00" width="14" height="1.00" fill="#48186a"/>
<rect x="313" y="173.00" width="14" height="1.00" fill="#472e7c"/>
<rect x="313" y="174.00" width="14" height="2.00" fill="#46327e"/>
<rect x="313" y="176.00" width="14" height="1.00" fill="#463480"/>
<rect x="313" y="177.00" width="14" height="1.00" fill="#46307e"/>
<rect x="313" y="178.00" width="14" height="1.00" fill="#3a548c"/>
<rect x="313" y="179.00" width="14" height="1.00" fill="#2e6e8e"/>
<rect x="313" y="180.00" width="14" height="1.00" fill="#2b758e"/>
<rect x="313" y="181.00" width="14" height="1.00" fill="#2a778e"/>
<rect x="313" y="182.00" width="14" height="1.00" fill="#287d8e"/>
<rect x="313" y="183.00" width="14" height="1.00" fill="#23898e"/>
<rect x="313" y="184.00" width="14" height="1.00" fill="#277f8e"/>
<rect x="313" y="185.00" width="14" height="1.00" fill="#2c738e"/>
<rect x="313" y="186.00" width="14" height="1.00" fill="#2a778e"/>
<rect x="313" y="187.00" width="14" height="1.00" fill="#277e8e"/>
<rect x="313" y="188.00" width="14" height="1.00" fill="#2a778e"/>
<rect x="313" y="189.00" width="14" height="1.00" fill="#27808e"/>
<rect x="313" y="190.00" width="14" height="1.00" fill="#277e8e"/>
<rect x="313" y="191.00" width="14" height="1.00" fill="#1f9e89"/>
<rect x="313" y="192.00" width="14" height="1.00" fill="#1f988b"/>
<rect x="313" y="193.00" width="14" height="1.00" fill="#1e9b8a"/>
<rect x="313" y="194.00" width="14" height="1.00" fill="#1f988b"/>
<rect x="313" y="195.00" width="14" height="1.00" fill="#50c46a"/>
<rect x="313" y="196.00" width="14" height="1.00" fill="#5cc863"/>
<rect x="313" y="197.00" width="14" height="1.00" fill="#56c667"/>
<rect x="313" y="198.00" width="14" height="3.00" fill="#fde725"/>
<rect x="313" y="201.00" width="14" height="2.00" fill="#6ece58"/>
<rect x="313" y="203.00" width="14" height="1.00" fill="#67cc5c"/>
<rect x="313" y="204.00" width="14" height="1.00" fill="#56c667"/>
<rect x="313" y="205.00" width="14" height="1.00" fill="#addc30"/>
<rect x="313" y="206.00" width="14" height="1.00" fill="#c5e021"/>
<rect x="313" y="207.00" width="14" height="1.00" fill="#7ad151"/>
<rect x="313" y="208.00" width="14" height="1.00" fill="#46c06f"/>
<rect x="313" y="209.00" width="14" height="1.00" fill="#38b977"/>
<rect x="313" y="210.00" width="14" height="1.00" fill="#25ac82"/>
<rect x="313" y="211.00" width="14" height="1.00" fill="#27ad81"/>
<rect x="313" y="212.00" width="14" height="1.00" fill="#40bd72"/>
<rect x="313" y="213.00" width="14" height="1.00" fill="#218e8d"/>
<rect x="313" y="214.00" width="14" height="2.00" fill="#1f968b"/>
<rect x="313" y="216.00" width="14" height="1.00" fill="#31688e"/>
<rect x="313" y="217.00" width="14" height="1.00" fill="#2e6d8e"/>
<rect x="313" y="218.00" width="14" height="1.00" fill="#2f6b8e"/>
<rect x="313" y="219.00" width="14" height="1.00" fill="#26828e"/>
<rect x="313" y="220.00" width="14" height="1.00" fill="#25848e"/>
<rect x="313" y="221.00" width="14" height="1.00" fill="#24868e"/>
<rect x="313" y="222.00" width="14" height="1.00" fill="#355e8d"/>
<rect x="313" y="223.00" width="14" height="1.00" fill="#365d8d"/>
<rect x="313" y="224.00" width="14" height="1.00" fill="#472e7c"/>
<rect x="313" y="225.00" width="14" height="1.00" fill="#472c7a"/>
<rect x="313" y="226.00" width="14" height="1.00" fill="#482979"/>
<rect x="313" y="227.00" width="14" height="1.00" fill="#482878"/>
<rect x="313" y="228.00" width="14" height="1.00" fill="#46337f"/>
<rect x="313" y="229.00" width="14" height="1.00" fill="#453882"/>
<rect x="313" y="230.00" width="14" height="1.00" fill="#481a6c"/>
<rect x="313" y="231.00" width="14" height="1.00" fill="#481467"/>
<rect x="313" y="232.00" width="14" height="1.00" fill="#481769"/>
<rect x="313" y="233.00" width="14" height="1.00" fill="#471365"/>
<rect x="313" y="234.00" width="14" height="1.00" fill="#481a6c"/>
<rect x="313" y="235.00" width="14" height="1.00" fill="#470e61"/>
<rect x="313" y="236.00" width="14" height="3.00" fill="#460a5d"/>
<rect x="313" y="239.00" width="14" height="1.00" fill="#46085c"/>
<rect x="313" y="240.00" width="14" height="1.00" fill="#460b5e"/>
<rect x="313" y="241.00" width="14" height="1.00" fill="#46085c"/>
<rect x="313" y="242.00" width="14" height="1.00" fill="#46075a"/>
<rect x="313" y="243.00" width="14" height="1.00" fill="#46085c"/>
<rect x="313" y="246.00" width="14" height="1.00" fill="#450559"/>
<rect x="313" y="247.00" width="14" height="1.00" fill="#46085c"/>
<rect x="327" y="144.00" width="13" height="1.00" fill="#450559"/>
<rect x="327" y="147.00" width="13" height="2.00" fill="#46085c"/>
<rect x="327" y="149.00" width="13" height="2.00" fill="#460a5d"/>
<rect x="327" y="151.00" width="13" height="1.00" fill="#460b5e"/>
<rect x="327" y="152.00" width="13" height="1.00" fill="#460a5d"/>
<rect x="327" y="153.00" width="13" height="2.00" fill="#46085c"/>
<rect x="327" y="155.00" width="13" height="1.00" fill="#460a5d"/>
<rect x="327" y="156.00" width="13" height="1.00" fill="#46085c"/>
<rect x="327" y="157.00" width="13" height="1.00" fill="#460a5d"/>
<rect x="327" y="158.00" width="13" height="1.00" fill="#470d60"/>
<rect x="327" y="159.00" width="13" height="1.00" fill="#460b5e"/>
<rect x="327" y="160.00" width="13" height="1.00" fill="#460a5d"/>
<rect x="327" y="161.00" width="13" height="1.00" fill="#470d60"/>
<rect x="327" y="162.00" width="13" height="1.00" fill="#481b6d"/>
<rect x="327" y="163.00" width="13" height="1.00" fill="#481a6c"/>
<rect x="327" y="164.00" width="13" height="1.00" fill="#481769"/>
<rect x="327" y="165.00" width="13" height="1.00" fill="#481c6e"/>
<rect x="327" y="166.00" width="13" height="1.00" fill="#482173"/>
<rect x="327" y="167.00" width="13" height="1.00" fill="#3f4788"/>
<rect x="327" y="168.00" width="13" height="1.00" fill="#404588"/>
<rect x="327" y="169.00" width="13" height="1.00" fill="#3f4788"/>
<rect x="327" y="170.00" width="13" height="1.00" fill="#433e85"/>
<rect x="327" y="171.00" width="13" height="2.00" fill="#404588"/>
<rect x="327" y="173.00" width="13" height="1.00" fill="#404688"/>
<rect x="327" y="174.00" width="13" height="1.00" fill="#3c4f8a"/>
<rect x="327" y="175.00" width="13" height="1.00" fill="#3b528b"/>
<rect x="327" y="176.00" width="13" height="1.00" fill="#3c4f8a"/>
<rect x="327" y="177.00" width="13" height="1.00" fill="#34608d"/>
<rect x="327" y="178.00" width="13" height="2.00" fill="#375b8d"/>
<rect x="327" y="180.00" width="13" height="1.00" fill="#277e8e"/>
<rect x="327" y="181.00" width="13" height="1.00" fill="#297b8e"/>
<rect x="327" y="182.00" width="13" height="1.00" fill="#2b758e"/>
<rect x="327" y="183.00" width="13" height="1.00" fill="#1f998a"/>
<rect x="327" y="184.00" width="13" height="1.00" fill="#1e9b8a"/>
<rect x="327" y="185.00" width="13" height="1.00" fill="#23a983"/>
<rect x="327" y="186.00" width="13" height="1.00" fill="#22a785"/>
<rect x="327" y="187.00" width="13" height="1.00" fill="#2fb47c"/>
<rect x="327" y="188.00" width="13" height="1.00" fill="#1f988b"/>
<rect x="327" y="189.00" width="13" height="1.00" fill="#1fa088"/>
<rect x="327" y="190.00" width="13" height="1.00" fill="#3aba76"/>
<rect x="327" y="191.00" width="13" height="1.00" fill="#56c667"/>
<rect x="327" y="192.00" width="13" height="1.00" fill="#46c06f"/>
<rect x="327" y="193.00" width="13" height="1.00" fill="#44bf70"/>
<rect x="327" y="194.00" width="13" height="1.00" fill="#32b67a"/>
<rect x="327" y="195.00" width="13" height="1.00" fill="#84d44b"/>
<rect x="327" y="196.00" width="13" height="1.00" fill="#69cd5b"/>
<rect x="327" y="197.00" width="13" height="1.00" fill="#63cb5f"/>
<rect x="327" y="198.00" width="13" height="1.00" fill="#6ece58"/>
<rect x="327" y="199.00" width="13" height="1.00" fill="#63cb5f"/>
<rect x="327" y="200.00" width="13" height="1.00" fill="#67cc5c"/>
<rect x="327" y="201.00" width="13" height="1.00" fill="#77d153"/>
<rect x="327" y="202.00" width="13" height="1.00" fill="#63cb5f"/>
<rect x="327" y="203.00" width="13" height="1.00" fill="#6ccd5a"/>
<rect x="327" y="204.00" width="13" height="1.00" fill="#75d054"/>
<rect x="327" y="205.00" width="13" height="2.00" fill="#60ca60"/>
<rect x="327" y="207.00" width="13" height="1.00" fill="#3bbb75"/>
<rect x="327" y="208.00" width="13" height="2.00" fill="#50c46a"/>
<rect x="327" y="210.00" width="13" height="1.00" fill="#23a983"/>
<rect x="327" y="211.00" width="13" height="1.00" fill="#22a884"/>
<rect x="327" y="212.00" width="13" height="1.00" fill="#228b8d"/>
<rect x="327" y="213.00" width="13" height="1.00" fill="#228d8d"/>
<rect x="327" y="214.00" width="13" height="1.00" fill="#228b8d"/>
<rect x="327" y="215.00" width="13" height="1.00" fill="#21918c"/>
<rect x="327" y="216.00" width="13" height="1.00" fill="#21908d"/>
<rect x="327" y="217.00" width="13" height="1.00" fill="#228c8d"/>
<rect x="327" y="218.00" width="13" height="1.00" fill="#228b8d"/>
<rect x="327" y="219.00" width="13" height="1.00" fill="#34608d"/>
<rect x="327" y="220.00" width="13" height="1.00" fill="#375b8d"/>
<rect x="327" y="221.00" width="13" height="1.00" fill="#375a8c"/>
<rect x="327" y="222.00" width="13" height="1.00" fill="#365c8d"/>
<rect x="327" y="223.00" width="13" height="1.00" fill="#33638d"/>
<rect x="327" y="224.00" width="13" height="1.00" fill="#34618d"/>
<rect x="327" y="225.00" width="13" height="1.00" fill="#3e4989"/>
<rect x="327" y="226.00" width="13" height="1.00" fill="#404688"/>
<rect x="327" y="227.00" width="13" height="1.00" fill="#3e4989"/>
<rect x="327" y="228.00" width="13" height="1.00" fill="#414487"/>
<rect x="327" y="229.00" width="13" height="1.00" fill="#46327e"/>
<rect x="327" y="230.00" width="13" height="1.00" fill="#46307e"/>
<rect x="327" y="231.00" width="13" height="2.00" fill="#472c7a"/>
<rect x="327" y="233.00" width="13" height="1.00" fill="#482576"/>
<rect x="327" y="234.00" width="13" height="1.00" fill="#481c6e"/>
<rect x="327" y="235.00" width="13" height="1.00" fill="#471365"/>
<rect x="327" y="236.00" width="13" height="1.00" fill="#460b5e"/>
<rect x="327" y="237.00" width="13" height="1.00" fill="#470d60"/>
<rect x="327" y="238.00" width="13" height="1.00" fill="#46085c"/>
<rect x="327" y="239.00" width="13" height="1.00" fill="#460b5e"/>
<rect x="327" y="240.00" width="13" height="2.00" fill="#460a5d"/>
<rect x="327" y="242.00" width="13" height="1.00" fill="#470d60"/>
<rect x="327" y="246.00" width="13" height="2.00" fill="#460b5e"/>
<rect x="327" y="254.00" width="13" height="1.00" fill="#46075a"/>
<rect x="340" y="145.00" width="14" height="1.00" fill="#450559"/>
<rect x="340" y="150.00" width="14" height="1.00" fill="#46075a"/>
<rect x="340" y="151.00" width="14" height="2.00" fill="#450559"/>
<rect x="340" y="153.00" width="14" height="1.00" fill="#46075a"/>
<rect x="340" y="154.00" width="14" height="2.00" fill="#46085c"/>
<rect x="340" y="156.00" width="14" height="1.00" fill="#450559"/>
<rect x="340" y="157.00" width="14" height="1.00" fill="#46075a"/>
<rect x="340" y="158.00" width="14" height="1.00" fill="#46085c"/>
<rect x="340" y="159.00" width="14" height="2.00" fill="#46075a"/>
<rect x="340" y="161.00" width="14" height="1.00" fill="#460a5d"/>
<rect x="340" y="162.00" width="14" height="1.00" fill="#471365"/>
<rect x="340" y="163.00" width="14" height="1.00" fill="#481a6c"/>
<rect x="340" y="164.00" width="14" height="1.00" fill="#481668"/>
<rect x="340" y="165.00" width="14" height="2.00" fill="#481a6c"/>
<rect x="340" y="167.00" width="14" height="1.00" fill="#433e85"/>
<rect x="340" y="168.00" width="14" height="1.00" fill="#375b8d"/>
<rect x="340" y="169.00" width="14" height="1.00" fill="#365c8d"/>
<rect x="340" y="170.00" width="14" height="1.00" fill="#3a548c"/>
<rect x="340" y="171.00" width="14" height="1.00" fill="#31668e"/>
<rect x="340" y="172.00" width="14" height="1.00" fill="#31688e"/>
<rect x="340" y="173.00" width="14" height="1.00" fill="#365d8d"/>
<rect x="340" y="174.00" width="14" height="1.00" fill="#34618d"/>
<rect x="340" y="175.00" width="14" height="1.00" fill="#34608d"/>
<rect x="340" y="176.00" width="14" height="1.00" fill="#34618d"/>
<rect x="340" y="177.00" width="14" height="1.00" fill="#26828e"/>
<rect x="340" y="178.00" width="14" height="1.00" fill="#297b8e"/>
<rect x="340" y="179.00" width="14" height="1.00" fill="#277f8e"/>
<rect x="340" y="180.00" width="14" height="1.00" fill="#4cc26c"/>
<rect x="340" y="181.00" width="14" height="2.00" fill="#69cd5b"/>
<rect x="340" y="183.00" width="14" height="2.00" fill="#b8de29"/>
<rect x="340" y="185.00" width="14" height="1.00" fill="#27ad81"/>
<rect x="340" y="186.00" width="14" height="1.00" fill="#24aa83"/>
<rect x="340" y="187.00" width="14" height="1.00" fill="#2cb17e"/>
<rect x="340" y="188.00" width="14" height="1.00" fill="#22a785"/>
<rect x="340" y="189.00" width="14" height="1.00" fill="#28ae80"/>
<rect x="340" y="190.00" width="14" height="1.00" fill="#1f9e89"/>
<rect x="340" y="191.00" width="14" height="1.00" fill="#218f8d"/>
<rect x="340" y="192.00" width="14" height="1.00" fill="#228b8d"/>
<rect x="340" y="193.00" width="14" height="1.00" fill="#228d8d"/>
<rect x="340" y="194.00" width="14" height="1.00" fill="#22a884"/>
<rect x="340" y="195.00" width="14" height="1.00" fill="#25ac82"/>
<rect x="340" y="196.00" width="14" height="1.00" fill="#29af7f"/>
<rect x="340" y="197.00" width="14" height="1.00" fill="#25838e"/>
<rect x="340" y="198.00" width="14" height="1.00" fill="#24878e"/>
<rect x="340" y="199.00" width="14" height="1.00" fill="#277f8e"/>
<rect x="340" y="200.00" width="14" height="1.00" fill="#355e8d"/>
<rect x="340" y="201.00" width="14" height="1.00" fill="#375b8d"/>
<rect x="340" y="202.00" width="14" height="1.00" fill="#33628d"/>
<rect x="340" y="203.00" width="14" height="1.00" fill="#2a778e"/>
<rect x="340" y="204.00" width="14" height="2.00" fill="#3a548c"/>
<rect x="340" y="206.00" width="14" height="1.00" fill="#482677"/>
<rect x="340" y="207.00" width="14" height="1.00" fill="#472c7a"/>
<rect x="340" y="208.00" width="14" height="1.00" fill="#472d7b"/>
<rect x="340" y="209.00" width="14" height="1.00" fill="#472e7c"/>
<rect x="340" y="210.00" width="14" height="1.00" fill="#482677"/>
<rect x="340" y="211.00" width="14" height="2.00" fill="#440154"/>
<rect x="340" y="213.00" width="14" height="1.00" fill="#481f70"/>
<rect x="340" y="214.00" width="14" height="1.00" fill="#481b6d"/>
<rect x="340" y="215.00" width="14" height="1.00" fill="#482173"/>
<rect x="340" y="216.00" width="14" height="1.00" fill="#481f70"/>
<rect x="340" y="217.00" width="14" height="1.00" fill="#481a6c"/>
<rect x="340" y="218.00" width="14" height="1.00" fill="#46085c"/>
<rect x="340" y="219.00" width="14" height="2.00" fill="#46075a"/>
<rect x="340" y="221.00" width="14" height="2.00" fill="#46085c"/>
<rect x="354" y="135.00" width="13" height="1.00" fill="#450559"/>
<rect x="354" y="138.00" width="13" height="1.00" fill="#450457"/>
<rect x="354" y="139.00" width="13" height="1.00" fill="#450559"/>
<rect x="354" y="150.00" width="13" height="1.00" fill="#46085c"/>
<rect x="354" y="151.00" width="13" height="1.00" fill="#450559"/>
<rect x="354" y="152.00" width="13" height="2.00" fill="#46085c"/>
<rect x="354" y="154.00" width="13" height="1.00" fill="#471365"/>
<rect x="354" y="155.00" width="13" height="2.00" fill="#481668"/>
<rect x="354" y="157.00" width="13" height="2.00" fill="#481467"/>
<rect x="354" y="159.00" width="13" height="1.00" fill="#48186a"/>
<rect x="354" y="160.00" width="13" height="1.00" fill="#481668"/>
<rect x="354" y="161.00" width="13" height="1.00" fill="#481467"/>
<rect x="354" y="162.00" width="13" height="1.00" fill="#460b5e"/>
<rect x="354" y="163.00" width="13" height="1.00" fill="#470d60"/>
<rect x="354" y="164.00" width="13" height="1.00" fill="#460b5e"/>
<rect x="354" y="165.00" width="13" height="1.00" fill="#470d60"/>
<rect x="354" y="166.00" width="13" height="1.00" fill="#481a6c"/>
<rect x="354" y="167.00" width="13" height="1.00" fill="#3a548c"/>
<rect x="354" y="168.00" width="13" height="1.00" fill="#3a538b"/>
<rect x="354" y="169.00" width="13" height="1.00" fill="#365d8d"/>
<rect x="354" y="170.00" width="13" height="1.00" fill="#375b8d"/>
<rect x="354" y="171.00" width="13" height="1.00" fill="#39558c"/>
<rect x="354" y="172.00" width="13" height="1.00" fill="#39568c"/>
<rect x="354" y="173.00" width="13" height="1.00" fill="#39558c"/>
<rect x="354" y="174.00" width="13" height="1.00" fill="#433e85"/>
<rect x="354" y="175.00" width="13" height="1.00" fill="#3f4788"/>
<rect x="354" y="176.00" width="13" height="1.00" fill="#404688"/>
<rect x="354" y="177.00" width="13" height="1.00" fill="#2d708e"/>
<rect x="354" y="178.00" width="13" height="1.00" fill="#2e6e8e"/>
<rect x="354" y="179.00" width="13" height="1.00" fill="#30698e"/>
<rect x="354" y="180.00" width="13" height="1.00" fill="#21a585"/>
<rect x="354" y="181.00" width="13" height="1.00" fill="#21a685"/>
<rect x="354" y="182.00" width="13" height="1.00" fill="#52c569"/>
<rect x="354" y="183.00" width="13" height="1.00" fill="#277e8e"/>
<rect x="354" y="184.00" width="13" height="1.00" fill="#238a8d"/>
<rect x="354" y="185.00" width="13" height="1.00" fill="#81d34d"/>
<rect x="354" y="186.00" width="13" height="1.00" fill="#8bd646"/>
<rect x="354" y="187.00" width="13" height="1.00" fill="#75d054"/>
<rect x="354" y="188.00" width="13" height="1.00" fill="#27ad81"/>
<rect x="354" y="189.00" width="13" height="1.00" fill="#25ac82"/>
<rect x="354" y="190.00" width="13" height="1.00" fill="#1fa187"/>
<rect x="354" y="191.00" width="13" height="1.00" fill="#20a386"/>
<rect x="354" y="192.00" width="13" height="1.00" fill="#25ac82"/>
<rect x="354" y="193.00" width="13" height="1.00" fill="#4ec36b"/>
<rect x="354" y="194.00" width="13" height="1.00" fill="#4cc26c"/>
<rect x="354" y="195.00" width="13" height="1.00" fill="#1f968b"/>
<rect x="354" y="196.00" width="13" height="1.00" fill="#1f978b"/>
<rect x="354" y="197.00" width="13" height="1.00" fill="#1fa088"/>
<rect x="354" y="198.00" width="13" height="1.00" fill="#32b67a"/>
<rect x="354" y="199.00" width="13" height="1.00" fill="#2eb37c"/>
<rect x="354" y="200.00" width="13" height="1.00" fill="#28ae80"/>
<rect x="354" y="201.00" width="13" height="1.00" fill="#1f948c"/>
<rect x="354" y="202.00" width="13" height="1.00" fill="#20928c"/>
<rect x="354" y="203.00" width="13" height="1.00" fill="#238a8d"/>
<rect x="354" y="204.00" width="13" height="1.00" fill="#33638d"/>
<rect x="354" y="205.00" width="13" height="1.00" fill="#30698e"/>
<rect x="354" y="206.00" width="13" height="1.00" fill="#31688e"/>
<rect x="354" y="207.00" width="13" height="1.00" fill="#3f4889"/>
<rect x="354" y="208.00" width="13" height="1.00" fill="#3e4989"/>
<rect x="354" y="209.00" width="13" height="1.00" fill="#404688"/>
<rect x="354" y="210.00" width="13" height="1.00" fill="#443b84"/>
<rect x="354" y="211.00" width="13" height="1.00" fill="#453781"/>
<rect x="354" y="212.00" width="13" height="1.00" fill="#423f85"/>
<rect x="354" y="213.00" width="13" height="1.00" fill="#433e85"/>
<rect x="354" y="214.00" width="13" height="1.00" fill="#443a83"/>
<rect x="354" y="215.00" width="13" height="1.00" fill="#482878"/>
<rect x="354" y="216.00" width="13" height="2.00" fill="#482576"/>
<rect x="354" y="218.00" width="13" height="1.00" fill="#481467"/>
<rect x="354" y="219.00" width="13" height="1.00" fill="#471365"/>
<rect x="354" y="220.00" width="13" height="1.00" fill="#481467"/>
<rect x="354" y="221.00" width="13" height="1.00" fill="#471164"/>
<rect x="354" y="222.00" width="13" height="1.00" fill="#470e61"/>
<rect x="354" y="227.00" width="13" height="2.00" fill="#46075a"/>
<rect x="367" y="151.00" width="14" height="1.00" fill="#460a5d"/>
<rect x="367" y="152.00" width="14" height="1.00" fill="#460b5e"/>
<rect x="367" y="153.00" width="14" height="1.00" fill="#460a5d"/>
<rect x="367" y="154.00" width="14" height="1.00" fill="#470d60"/>
<rect x="367" y="155.00" width="14" height="1.00" fill="#482173"/>
<rect x="367" y="156.00" width="14" height="1.00" fill="#482475"/>
<rect x="367" y="157.00" width="14" height="1.00" fill="#482374"/>
<rect x="367" y="158.00" width="14" height="1.00" fill="#482173"/>
<rect x="367" y="159.00" width="14" height="1.00" fill="#482374"/>
<rect x="367" y="160.00" width="14" height="1.00" fill="#482878"/>
<rect x="367" y="161.00" width="14" height="1.00" fill="#470d60"/>
<rect x="367" y="162.00" width="14" height="2.00" fill="#471063"/>
<rect x="367" y="164.00" width="14" height="2.00" fill="#470d60"/>
<rect x="367" y="166.00" width="14" height="1.00" fill="#470e61"/>
<rect x="367" y="167.00" width="14" height="1.00" fill="#3b528b"/>
<rect x="367" y="168.00" width="14" height="2.00" fill="#2b758e"/>
<rect x="367" y="170.00" width="14" height="1.00" fill="#2b748e"/>
<rect x="367" y="171.00" width="14" height="1.00" fill="#297a8e"/>
<rect x="367" y="172.00" width="14" height="1.00" fill="#32658e"/>
<rect x="367" y="173.00" width="14" height="1.00" fill="#365d8d"/>
<rect x="367" y="174.00" width="14" height="1.00" fill="#355e8d"/>
<rect x="367" y="175.00" width="14" height="1.00" fill="#33628d"/>
<rect x="367" y="176.00" width="14" height="1.00" fill="#424186"/>
<rect x="367" y="177.00" width="14" height="1.00" fill="#423f85"/>
<rect x="367" y="178.00" width="14" height="1.00" fill="#404588"/>
<rect x="367" y="179.00" width="14" height="1.00" fill="#32658e"/>
<rect x="367" y="180.00" width="14" height="1.00" fill="#34618d"/>
<rect x="367" y="181.00" width="14" height="1.00" fill="#32658e"/>
<rect x="367" y="182.00" width="14" height="1.00" fill="#2f6b8e"/>
<rect x="367" y="183.00" width="14" height="1.00" fill="#3e4989"/>
<rect x="367" y="184.00" width="14" height="1.00" fill="#453882"/>
<rect x="367" y="185.00" width="14" height="1.00" fill="#453581"/>
<rect x="367" y="186.00" width="14" height="1.00" fill="#453882"/>
<rect x="367" y="187.00" width="14" height="1.00" fill="#463480"/>
<rect x="367" y="188.00" width="14" height="1.00" fill="#453781"/>
<rect x="367" y="189.00" width="14" height="1.00" fill="#481668"/>
<rect x="367" y="190.00" width="14" height="2.00" fill="#471164"/>
<rect x="367" y="192.00" width="14" height="1.00" fill="#481467"/>
<rect x="367" y="193.00" width="14" height="1.00" fill="#471365"/>
<rect x="367" y="194.00" width="14" height="1.00" fill="#482475"/>
<rect x="367" y="195.00" width="14" height="1.00" fill="#46075a"/>
<rect x="367" y="196.00" width="14" height="1.00" fill="#460a5d"/>
<rect x="367" y="197.00" width="14" height="1.00" fill="#46085c"/>
<rect x="367" y="198.00" width="14" height="1.00" fill="#481467"/>
<rect x="367" y="199.00" width="14" height="1.00" fill="#471063"/>
<rect x="367" y="200.00" width="14" height="1.00" fill="#471164"/>
<rect x="381" y="150.00" width="13" height="1.00" fill="#450559"/>
<rect x="381" y="152.00" width="13" height="1.00" fill="#460a5d"/>
<rect x="381" y="153.00" width="13" height="1.00" fill="#450559"/>
<rect x="381" y="154.00" width="13" height="1.00" fill="#46075a"/>
<rect x="381" y="155.00" width="13" height="1.00" fill="#481b6d"/>
<rect x="381" y="156.00" width="13" height="1.00" fill="#481769"/>
<rect x="381" y="157.00" width="13" height="1.00" fill="#481467"/>
<rect x="381" y="158.00" width="13" height="1.00" fill="#470d60"/>
<rect x="381" y="159.00" width="13" height="4.00" fill="#460a5d"/>
<rect x="381" y="163.00" width="13" height="1.00" fill="#470d60"/>
<rect x="381" y="164.00" width="13" height="1.00" fill="#470e61"/>
<rect x="381" y="165.00" width="13" height="1.00" fill="#470d60"/>
<rect x="381" y="166.00" width="13" height="1.00" fill="#481f70"/>
<rect x="381" y="167.00" width="13" height="1.00" fill="#2d718e"/>
<rect x="381" y="168.00" width="13" height="1.00" fill="#2b758e"/>
<rect x="381" y="169.00" width="13" height="1.00" fill="#2a768e"/>
<rect x="381" y="170.00" width="13" height="1.00" fill="#2a778e"/>
<rect x="381" y="171.00" width="13" height="1.00" fill="#375b8d"/>
<rect x="381" y="172.00" width="13" height="1.00" fill="#424086"/>
<rect x="381" y="173.00" width="13" height="1.00" fill="#424186"/>
<rect x="381" y="174.00" width="13" height="1.00" fill="#472a7a"/>
<rect x="381" y="175.00" width="13" height="1.00" fill="#472d7b"/>
<rect x="381" y="176.00" width="13" height="1.00" fill="#482677"/>
<rect x="381" y="177.00" width="13" height="1.00" fill="#482979"/>
<rect x="381" y="178.00" width="13" height="1.00" fill="#228c8d"/>
<rect x="381" y="179.00" width="13" height="1.00" fill="#22a884"/>
<rect x="381" y="180.00" width="13" height="1.00" fill="#21a685"/>
<rect x="381" y="181.00" width="13" height="1.00" fill="#22a884"/>
<rect x="381" y="182.00" width="13" height="1.00" fill="#365d8d"/>
<rect x="381" y="183.00" width="13" height="1.00" fill="#34608d"/>
<rect x="381" y="184.00" width="13" height="1.00" fill="#1fa187"/>
<rect x="381" y="185.00" width="13" height="1.00" fill="#1f958b"/>
<rect x="381" y="186.00" width="13" height="1.00" fill="#2d708e"/>
<rect x="381" y="187.00" width="13" height="1.00" fill="#2e6f8e"/>
<rect x="381" y="188.00" width="13" height="1.00" fill="#2f6b8e"/>
<rect x="381" y="189.00" width="13" height="1.00" fill="#2e6f8e"/>
<rect x="381" y="190.00" width="13" height="1.00" fill="#453781"/>
<rect x="381" y="191.00" width="13" height="1.00" fill="#31688e"/>
<rect x="381" y="192.00" width="13" height="1.00" fill="#2c718e"/>
<rect x="381" y="193.00" width="13" height="1.00" fill="#472e7c"/>
<rect x="381" y="194.00" width="13" height="1.00" fill="#482878"/>
<rect x="381" y="195.00" width="13" height="1.00" fill="#355f8d"/>
<rect x="381" y="196.00" width="13" height="1.00" fill="#375b8d"/>
<rect x="381" y="197.00" width="13" height="1.00" fill="#375a8c"/>
<rect x="381" y="198.00" width="13" height="1.00" fill="#365d8d"/>
<rect x="381" y="199.00" width="13" height="1.00" fill="#355f8d"/>
<rect x="381" y="200.00" width="13" height="1.00" fill="#481c6e"/>
<rect x="381" y="201.00" width="13" height="1.00" fill="#481b6d"/>
<rect x="381" y="202.00" width="13" height="1.00" fill="#482071"/>
<rect x="381" y="203.00" width="13" height="1.00" fill="#481d6f"/>
<rect x="381" y="204.00" width="13" height="2.00" fill="#46085c"/>
<rect x="381" y="206.00" width="13" height="1.00" fill="#460a5d"/>
<rect x="394" y="153.00" width="13" height="1.00" fill="#46085c"/>
<rect x="394" y="154.00" width="13" height="1.00" fill="#46075a"/>
<rect x="394" y="155.00" width="13" height="2.00" fill="#46085c"/>
<rect x="394" y="157.00" width="13" height="2.00" fill="#472a7a"/>
<rect x="394" y="159.00" width="13" height="1.00" fill="#481467"/>
<rect x="394" y="160.00" width="13" height="2.00" fill="#460a5d"/>
<rect x="394" y="162.00" width="13" height="1.00" fill="#46085c"/>
<rect x="394" y="163.00" width="13" height="1.00" fill="#46075a"/>
<rect x="394" y="164.00" width="13" height="1.00" fill="#460a5d"/>
<rect x="394" y="165.00" width="13" height="1.00" fill="#46085c"/>
<rect x="394" y="166.00" width="13" height="1.00" fill="#46075a"/>
<rect x="394" y="167.00" width="13" height="1.00" fill="#472f7d"/>
<rect x="394" y="168.00" width="13" height="1.00" fill="#472a7a"/>
<rect x="394" y="169.00" width="13" height="1.00" fill="#46307e"/>
<rect x="394" y="170.00" width="13" height="1.00" fill="#471365"/>
<rect x="394" y="171.00" width="13" height="1.00" fill="#481467"/>
<rect x="394" y="172.00" width="13" height="1.00" fill="#460a5d"/>
<rect x="394" y="173.00" width="13" height="3.00" fill="#46085c"/>
<rect x="394" y="176.00" width="13" height="1.00" fill="#46075a"/>
<rect x="394" y="179.00" width="13" height="1.00" fill="#471063"/>
<rect x="394" y="180.00" width="13" height="1.00" fill="#470e61"/>
<rect x="394" y="181.00" width="13" height="1.00" fill="#471365"/>
<rect x="407" y="153.00" width="14" height="1.00" fill="#460a5d"/>
<rect x="407" y="154.00" width="14" height="1.00" fill="#46085c"/>
<rect x="407" y="155.00" width="14" height="1.00" fill="#46075a"/>
<rect x="407" y="156.00" width="14" height="1.00" fill="#472e7c"/>
<rect x="407" y="157.00" width="14" height="1.00" fill="#472c7a"/>
<rect x="407" y="158.00" width="14" height="1.00" fill="#471063"/>
<rect x="407" y="159.00" width="14" height="1.00" fill="#450559"/>
<rect x="407" y="160.00" width="14" height="1.00" fill="#46085c"/>
<rect x="407" y="166.00" width="14" height="1.00" fill="#365d8d"/>
<rect x="407" y="167.00" width="14" height="1.00" fill="#34618d"/>
<rect x="407" y="168.00" width="14" height="1.00" fill="#33638d"/>
<rect x="407" y="169.00" width="14" height="1.00" fill="#306a8e"/>
<rect x="407" y="170.00" width="14" height="1.00" fill="#32648e"/>
<rect x="407" y="171.00" width="14" height="1.00" fill="#355e8d"/>
<rect x="407" y="172.00" width="14" height="1.00" fill="#463480"/>
<rect x="407" y="173.00" width="14" height="1.00" fill="#453882"/>
<rect x="407" y="174.00" width="14" height="1.00" fill="#453581"/>
<rect x="407" y="175.00" width="14" height="1.00" fill="#3a548c"/>
<rect x="407" y="176.00" width="14" height="1.00" fill="#3f4788"/>
<rect x="407" y="177.00" width="14" height="1.00" fill="#472e7c"/>
<rect x="407" y="178.00" width="14" height="1.00" fill="#424186"/>
<rect x="407" y="179.00" width="14" height="1.00" fill="#38598c"/>
<rect x="407" y="180.00" width="14" height="1.00" fill="#472d7b"/>
<rect x="407" y="181.00" width="14" height="1.00" fill="#482576"/>
<rect x="407" y="182.00" width="14" height="1.00" fill="#482374"/>
<rect x="407" y="183.00" width="14" height="1.00" fill="#433e85"/>
<rect x="407" y="184.00" width="14" height="1.00" fill="#423f85"/>
<rect x="407" y="185.00" width="14" height="1.00" fill="#433d84"/>
<rect x="407" y="186.00" width="14" height="1.00" fill="#453581"/>
<rect x="407" y="187.00" width="14" height="1.00" fill="#453781"/>
<rect x="407" y="188.00" width="14" height="1.00" fill="#460a5d"/>
<rect x="421" y="157.00" width="13" height="3.00" fill="#46075a"/>
<rect x="421" y="160.00" width="13" height="1.00" fill="#46085c"/>
<rect x="434" y="156.00" width="14" height="1.00" fill="#482475"/>
<rect x="434" y="157.00" width="14" height="1.00" fill="#482071"/>
<rect x="434" y="158.00" width="14" height="1.00" fill="#482173"/>
<rect x="434" y="159.00" width="14" height="1.00" fill="#482071"/>
<rect x="434" y="160.00" width="14" height="1.00" fill="#482475"/>
<rect x="434" y="167.00" width="14" height="1.00" fill="#482374"/>
<rect x="434" y="168.00" width="14" height="1.00" fill="#482878"/>
<rect x="434" y="169.00" width="14" height="3.00" fill="#46085c"/>
<rect x="434" y="172.00" width="14" height="1.00" fill="#460a5d"/>
<rect x="434" y="173.00" width="14" height="1.00" fill="#46085c"/>
<rect x="434" y="174.00" width="14" height="1.00" fill="#46075a"/>
<rect x="461" y="157.00" width="14" height="1.00" fill="#481668"/>
<rect x="461" y="158.00" width="14" height="3.00" fill="#481467"/></g>
<rect x="94.2" y="17.9" width="398.6" height="395.0" fill="none" stroke="#262626" stroke-width="1.74"/>
<rect x="518.1" y="17.9" width="19.299999999999955" height="395.0" fill="url(#vg)" stroke="#262626" stroke-width="1.74"/>
<text x="145.60" y="437.6" text-anchor="middle" style="font-family:'DejaVu Sans','Liberation Sans',sans-serif;fill:#262626;font-size:15.278px">5</text>
<text x="212.75" y="437.6" text-anchor="middle" style="font-family:'DejaVu Sans','Liberation Sans',sans-serif;fill:#262626;font-size:15.278px">10</text>
<text x="279.90" y="437.6" text-anchor="middle" style="font-family:'DejaVu Sans','Liberation Sans',sans-serif;fill:#262626;font-size:15.278px">15</text>
<text x="347.05" y="437.6" text-anchor="middle" style="font-family:'DejaVu Sans','Liberation Sans',sans-serif;fill:#262626;font-size:15.278px">20</text>
<text x="414.20" y="437.6" text-anchor="middle" style="font-family:'DejaVu Sans','Liberation Sans',sans-serif;fill:#262626;font-size:15.278px">25</text>
<text x="481.35" y="437.6" text-anchor="middle" style="font-family:'DejaVu Sans','Liberation Sans',sans-serif;fill:#262626;font-size:15.278px">30</text>
<text x="292.80" y="458.8" text-anchor="middle" style="font-family:'DejaVu Sans','Liberation Sans',sans-serif;fill:#262626;font-size:16.667px">Nb atoms</text>
<text x="80.4" y="29.70" text-anchor="end" style="font-family:'DejaVu Sans','Liberation Sans',sans-serif;fill:#262626;font-size:15.278px">−70</text>
<text x="80.4" y="88.70" text-anchor="end" style="font-family:'DejaVu Sans','Liberation Sans',sans-serif;fill:#262626;font-size:15.278px">−80</text>
<text x="80.4" y="147.70" text-anchor="end" style="font-family:'DejaVu Sans','Liberation Sans',sans-serif;fill:#262626;font-size:15.278px">−90</text>
<text x="80.4" y="206.70" text-anchor="end" style="font-family:'DejaVu Sans','Liberation Sans',sans-serif;fill:#262626;font-size:15.278px">−100</text>
<text x="80.4" y="265.70" text-anchor="end" style="font-family:'DejaVu Sans','Liberation Sans',sans-serif;fill:#262626;font-size:15.278px">−110</text>
<text x="80.4" y="324.70" text-anchor="end" style="font-family:'DejaVu Sans','Liberation Sans',sans-serif;fill:#262626;font-size:15.278px">−120</text>
<text x="80.4" y="383.70" text-anchor="end" style="font-family:'DejaVu Sans','Liberation Sans',sans-serif;fill:#262626;font-size:15.278px">−130</text>
<text x="29.5" y="216.70" text-anchor="middle" transform="rotate(-90 29.5 216.70)" style="font-family:'DejaVu Sans','Liberation Sans',sans-serif;fill:#262626;font-size:16.667px">Formation Energy (kcal/atom)</text>
<line x1="537.4" x2="544.9" y1="412.90" y2="412.90" stroke="#262626" stroke-width="1.74"/>
<text x="551.0" y="418.70" text-anchor="start" style="font-family:'DejaVu Sans','Liberation Sans',sans-serif;fill:#262626;font-size:15.278px">0e+00</text>
<line x1="537.4" x2="544.9" y1="361.73" y2="361.73" stroke="#262626" stroke-width="1.74"/>
<text x="551.0" y="367.53" text-anchor="start" style="font-family:'DejaVu Sans','Liberation Sans',sans-serif;fill:#262626;font-size:15.278px">1e+02</text>
<line x1="537.4" x2="544.9" y1="310.57" y2="310.57" stroke="#262626" stroke-width="1.74"/>
<text x="551.0" y="316.37" text-anchor="start" style="font-family:'DejaVu Sans','Liberation Sans',sans-serif;fill:#262626;font-size:15.278px">2e+02</text>
<line x1="537.4" x2="544.9" y1="259.40" y2="259.40" stroke="#262626" stroke-width="1.74"/>
<text x="551.0" y="265.20" text-anchor="start" style="font-family:'DejaVu Sans','Liberation Sans',sans-serif;fill:#262626;font-size:15.278px">3e+02</text>
<line x1="537.4" x2="544.9" y1="208.24" y2="208.24" stroke="#262626" stroke-width="1.74"/>
<text x="551.0" y="214.04" text-anchor="start" style="font-family:'DejaVu Sans','Liberation Sans',sans-serif;fill:#262626;font-size:15.278px">4e+02</text>
<line x1="537.4" x2="544.9" y1="157.07" y2="157.07" stroke="#262626" stroke-width="1.74"/>
<text x="551.0" y="162.87" text-anchor="start" style="font-family:'DejaVu Sans','Liberation Sans',sans-serif;fill:#262626;font-size:15.278px">5e+02</text>
<line x1="537.4" x2="544.9" y1="105.91" y2="105.91" stroke="#262626" stroke-width="1.74"/>
<text x="551.0" y="111.71" text-anchor="start" style="font-family:'DejaVu Sans','Liberation Sans',sans-serif;fill:#262626;font-size:15.278px">6e+02</text>
<line x1="537.4" x2="544.9" y1="54.74" y2="54.74" stroke="#262626" stroke-width="1.74"/>
<text x="551.0" y="60.54" text-anchor="start" style="font-family:'DejaVu Sans','Liberation Sans',sans-serif;fill:#262626;font-size:15.278px">7e+02</text>
<text x="620.5" y="217.40" text-anchor="middle" transform="rotate(-90 620.5 217.40)" style="font-family:'DejaVu Sans','Liberation Sans',sans-serif;fill:#262626;font-size:16.667px">Nb geometries</text>
</svg>
</body></html>
